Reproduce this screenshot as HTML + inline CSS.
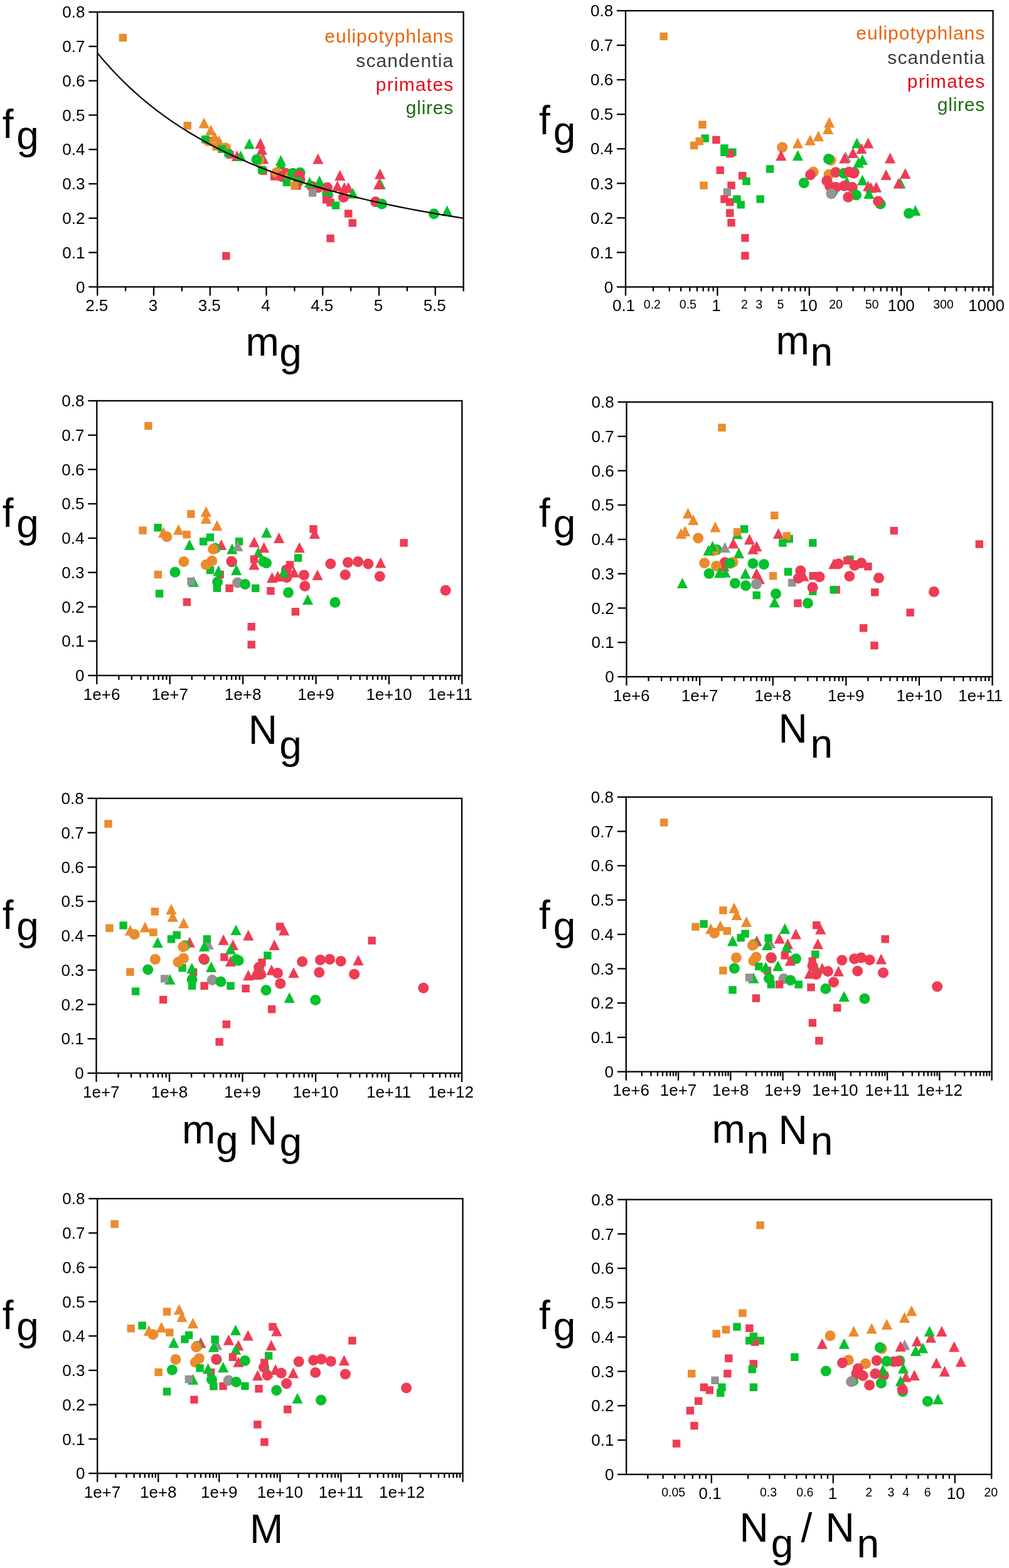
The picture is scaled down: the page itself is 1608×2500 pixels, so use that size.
<!DOCTYPE html>
<html><head><meta charset="utf-8"><title>Figure</title><style>html,body{margin:0;padding:0;background:#fff;width:1608px;height:2500px;overflow:hidden}svg{display:block}</style></head><body>
<svg width="1608" height="2500" viewBox="0 0 1608 2500" font-family='"Liberation Sans", Arial, Helvetica, sans-serif'>
<rect width="1608" height="2500" fill="#fff"/>
<rect x="189.7" y="54.0" width="12.4" height="12.4" fill="#EB8B2D"/>
<rect x="292.5" y="194.1" width="12.4" height="12.4" fill="#EB8B2D"/>
<path d="M325.2 187.5L333.8 204.5L316.6 204.5Z" fill="#EB8B2D"/>
<rect x="325.4" y="218.2" width="12.4" height="12.4" fill="#EE3C54"/>
<rect x="328.3" y="220.6" width="12.4" height="12.4" fill="#EB8B2D"/>
<rect x="338.5" y="227.6" width="12.4" height="12.4" fill="#EB8B2D"/>
<rect x="321.1" y="216.0" width="12.4" height="12.4" fill="#04C02C"/>
<path d="M335.9 198.8L344.5 215.8L327.3 215.8Z" fill="#EB8B2D"/>
<path d="M342.3 209.7L350.9 226.7L333.7 226.7Z" fill="#EB8B2D"/>
<path d="M349.0 215.9L357.6 232.9L340.4 232.9Z" fill="#EB8B2D"/>
<circle cx="359.5" cy="236.1" r="8.5" fill="#EB8B2D"/>
<rect x="347.4" y="231.5" width="12.4" height="12.4" fill="#04C02C"/>
<rect x="360.3" y="240.4" width="12.4" height="12.4" fill="#EE3C54"/>
<rect x="357.3" y="237.9" width="12.4" height="12.4" fill="#04C02C"/>
<path d="M377.6 239.9L386.2 256.9L369.0 256.9Z" fill="#EE3C54"/>
<path d="M383.6 240.1L392.2 257.1L375.0 257.1Z" fill="#04C02C"/>
<path d="M397.3 220.4L405.9 237.4L388.7 237.4Z" fill="#04C02C"/>
<path d="M419.9 243.8L428.5 260.8L411.3 260.8Z" fill="#939393"/>
<path d="M414.9 219.9L423.5 236.9L406.3 236.9Z" fill="#EE3C54"/>
<path d="M417.3 229.8L425.9 246.8L408.7 246.8Z" fill="#EE3C54"/>
<path d="M418.4 244.4L427.0 261.4L409.8 261.4Z" fill="#EE3C54"/>
<circle cx="412.7" cy="255.5" r="8.5" fill="#EB8B2D"/>
<circle cx="409.0" cy="254.4" r="8.5" fill="#04C02C"/>
<rect x="413.2" y="266.4" width="12.4" height="12.4" fill="#EE3C54"/>
<rect x="410.8" y="264.3" width="12.4" height="12.4" fill="#04C02C"/>
<path d="M447.5 253.2L456.1 270.2L438.9 270.2Z" fill="#04C02C"/>
<path d="M447.5 247.2L456.1 264.2L438.9 264.2Z" fill="#04C02C"/>
<rect x="430.9" y="275.2" width="12.4" height="12.4" fill="#EE3C54"/>
<circle cx="440.7" cy="275.2" r="8.5" fill="#EB8B2D"/>
<circle cx="449.0" cy="281.4" r="8.5" fill="#EE3C54"/>
<circle cx="455.8" cy="276.2" r="8.5" fill="#EE3C54"/>
<circle cx="462.5" cy="280.4" r="8.5" fill="#EB8B2D"/>
<circle cx="466.7" cy="276.2" r="8.5" fill="#04C02C"/>
<circle cx="478.1" cy="275.2" r="8.5" fill="#04C02C"/>
<circle cx="477.1" cy="279.4" r="8.5" fill="#EE3C54"/>
<circle cx="478.1" cy="286.6" r="8.5" fill="#EE3C54"/>
<path d="M506.8 244.6L515.4 261.6L498.2 261.6Z" fill="#EE3C54"/>
<path d="M541.7 270.9L550.3 287.9L533.1 287.9Z" fill="#EE3C54"/>
<rect x="450.6" y="284.6" width="12.4" height="12.4" fill="#04C02C"/>
<circle cx="474.7" cy="290.5" r="8.5" fill="#04C02C"/>
<rect x="467.2" y="290.2" width="12.4" height="12.4" fill="#EE3C54"/>
<rect x="463.3" y="290.2" width="12.4" height="12.4" fill="#EB8B2D"/>
<circle cx="522.9" cy="311.2" r="8.5" fill="#939393"/>
<circle cx="521.6" cy="309.1" r="8.5" fill="#04C02C"/>
<circle cx="496.8" cy="297.0" r="8.5" fill="#EE3C54"/>
<circle cx="507.1" cy="299.0" r="8.5" fill="#EE3C54"/>
<circle cx="521.4" cy="299.0" r="8.5" fill="#EE3C54"/>
<path d="M493.5 282.0L502.1 299.0L484.9 299.0Z" fill="#04C02C"/>
<path d="M509.1 280.1L517.7 297.1L500.5 297.1Z" fill="#04C02C"/>
<rect x="491.9" y="301.2" width="12.4" height="12.4" fill="#939393"/>
<rect x="513.9" y="312.2" width="12.4" height="12.4" fill="#EE3C54"/>
<rect x="520.4" y="316.8" width="12.4" height="12.4" fill="#EE3C54"/>
<rect x="528.9" y="321.3" width="12.4" height="12.4" fill="#04C02C"/>
<path d="M537.7 287.9L546.3 304.9L529.1 304.9Z" fill="#EE3C54"/>
<path d="M548.7 290.5L557.3 307.5L540.1 307.5Z" fill="#EE3C54"/>
<path d="M555.2 290.5L563.8 307.5L546.6 307.5Z" fill="#EE3C54"/>
<path d="M562.3 299.6L570.9 316.6L553.7 316.6Z" fill="#04C02C"/>
<circle cx="547.4" cy="314.5" r="8.5" fill="#EE3C54"/>
<rect x="549.0" y="334.3" width="12.4" height="12.4" fill="#EE3C54"/>
<rect x="555.5" y="349.3" width="12.4" height="12.4" fill="#EE3C54"/>
<path d="M605.6 268.7L614.2 285.7L597.0 285.7Z" fill="#EE3C54"/>
<path d="M606.2 284.7L614.8 301.7L597.6 301.7Z" fill="#04C02C"/>
<path d="M603.8 285.0L612.4 302.0L595.2 302.0Z" fill="#EE3C54"/>
<circle cx="598.6" cy="321.8" r="8.5" fill="#EE3C54"/>
<circle cx="608.5" cy="325.3" r="8.5" fill="#04C02C"/>
<circle cx="691.5" cy="341.1" r="8.5" fill="#04C02C"/>
<path d="M712.5 327.6L721.1 344.6L703.9 344.6Z" fill="#04C02C"/>
<rect x="520.4" y="373.9" width="12.4" height="12.4" fill="#EE3C54"/>
<rect x="354.1" y="402.0" width="12.4" height="12.4" fill="#EE3C54"/>
<rect x="1051.5" y="51.8" width="12.4" height="12.4" fill="#EB8B2D"/>
<rect x="1113.2" y="192.6" width="12.4" height="12.4" fill="#EB8B2D"/>
<rect x="1117.3" y="214.4" width="12.4" height="12.4" fill="#04C02C"/>
<rect x="1108.5" y="219.1" width="12.4" height="12.4" fill="#EB8B2D"/>
<rect x="1099.9" y="225.7" width="12.4" height="12.4" fill="#EB8B2D"/>
<rect x="1135.2" y="216.8" width="12.4" height="12.4" fill="#EE3C54"/>
<rect x="1161.2" y="236.6" width="12.4" height="12.4" fill="#04C02C"/>
<rect x="1157.0" y="238.9" width="12.4" height="12.4" fill="#EE3C54"/>
<rect x="1148.2" y="236.6" width="12.4" height="12.4" fill="#04C02C"/>
<rect x="1148.2" y="230.2" width="12.4" height="12.4" fill="#04C02C"/>
<rect x="1141.5" y="265.2" width="12.4" height="12.4" fill="#EE3C54"/>
<rect x="1177.0" y="274.0" width="12.4" height="12.4" fill="#EE3C54"/>
<rect x="1183.3" y="282.8" width="12.4" height="12.4" fill="#04C02C"/>
<rect x="1220.9" y="263.3" width="12.4" height="12.4" fill="#04C02C"/>
<rect x="1115.3" y="289.5" width="12.4" height="12.4" fill="#EB8B2D"/>
<rect x="1159.3" y="289.5" width="12.4" height="12.4" fill="#EE3C54"/>
<rect x="1152.6" y="300.2" width="12.4" height="12.4" fill="#939393"/>
<rect x="1148.2" y="311.3" width="12.4" height="12.4" fill="#EE3C54"/>
<rect x="1157.0" y="316.0" width="12.4" height="12.4" fill="#EE3C54"/>
<rect x="1168.2" y="311.3" width="12.4" height="12.4" fill="#04C02C"/>
<rect x="1174.5" y="320.2" width="12.4" height="12.4" fill="#04C02C"/>
<rect x="1205.4" y="311.3" width="12.4" height="12.4" fill="#04C02C"/>
<rect x="1157.0" y="333.5" width="12.4" height="12.4" fill="#EE3C54"/>
<rect x="1159.3" y="349.0" width="12.4" height="12.4" fill="#EE3C54"/>
<rect x="1181.2" y="373.2" width="12.4" height="12.4" fill="#EE3C54"/>
<rect x="1181.2" y="401.5" width="12.4" height="12.4" fill="#EE3C54"/>
<circle cx="1246.6" cy="234.9" r="8.5" fill="#EB8B2D"/>
<path d="M1244.8 239.2L1253.4 256.2L1236.2 256.2Z" fill="#EE3C54"/>
<path d="M1271.4 219.4L1280.0 236.4L1262.8 236.4Z" fill="#EB8B2D"/>
<path d="M1271.4 239.2L1280.0 256.2L1262.8 256.2Z" fill="#04C02C"/>
<path d="M1291.1 214.7L1299.7 231.7L1282.5 231.7Z" fill="#EB8B2D"/>
<path d="M1304.3 208.3L1312.9 225.3L1295.7 225.3Z" fill="#EB8B2D"/>
<path d="M1319.6 197.1L1328.2 214.1L1311.0 214.1Z" fill="#EB8B2D"/>
<path d="M1321.6 186.5L1330.2 203.5L1313.0 203.5Z" fill="#EB8B2D"/>
<circle cx="1324.0" cy="255.5" r="8.5" fill="#EB8B2D"/>
<circle cx="1320.4" cy="253.6" r="8.5" fill="#04C02C"/>
<path d="M1347.9 241.6L1356.5 258.6L1339.3 258.6Z" fill="#939393"/>
<path d="M1345.8 243.6L1354.4 260.6L1337.2 260.6Z" fill="#EE3C54"/>
<path d="M1359.4 235.0L1368.0 252.0L1350.8 252.0Z" fill="#EE3C54"/>
<path d="M1365.6 219.4L1374.2 236.4L1357.0 236.4Z" fill="#04C02C"/>
<path d="M1372.9 228.3L1381.5 245.3L1364.3 245.3Z" fill="#EE3C54"/>
<path d="M1383.6 219.4L1392.2 236.4L1375.0 236.4Z" fill="#EE3C54"/>
<path d="M1368.2 250.6L1376.8 267.6L1359.6 267.6Z" fill="#04C02C"/>
<path d="M1374.4 245.9L1383.0 262.9L1365.8 262.9Z" fill="#04C02C"/>
<circle cx="1296.0" cy="274.2" r="8.5" fill="#EB8B2D"/>
<circle cx="1291.5" cy="278.8" r="8.5" fill="#EE3C54"/>
<circle cx="1281.2" cy="291.8" r="8.5" fill="#04C02C"/>
<path d="M1349.5 281.2L1358.1 298.2L1340.9 298.2Z" fill="#04C02C"/>
<circle cx="1327.1" cy="305.3" r="8.5" fill="#04C02C"/>
<circle cx="1361.4" cy="274.7" r="8.5" fill="#04C02C"/>
<circle cx="1320.9" cy="278.3" r="8.5" fill="#EB8B2D"/>
<circle cx="1331.8" cy="274.7" r="8.5" fill="#EE3C54"/>
<circle cx="1344.8" cy="276.2" r="8.5" fill="#04C02C"/>
<circle cx="1353.1" cy="274.2" r="8.5" fill="#EE3C54"/>
<circle cx="1360.4" cy="276.2" r="8.5" fill="#EE3C54"/>
<circle cx="1317.8" cy="288.2" r="8.5" fill="#EE3C54"/>
<circle cx="1332.3" cy="298.6" r="8.5" fill="#EE3C54"/>
<circle cx="1345.3" cy="296.5" r="8.5" fill="#EE3C54"/>
<circle cx="1358.3" cy="298.6" r="8.5" fill="#EE3C54"/>
<circle cx="1322.5" cy="297.0" r="8.5" fill="#EE3C54"/>
<circle cx="1324.8" cy="309.0" r="8.5" fill="#939393"/>
<circle cx="1364.5" cy="311.0" r="8.5" fill="#04C02C"/>
<circle cx="1351.8" cy="314.2" r="8.5" fill="#EE3C54"/>
<path d="M1374.4 278.6L1383.0 295.6L1365.8 295.6Z" fill="#04C02C"/>
<path d="M1383.6 288.0L1392.2 305.0L1375.0 305.0Z" fill="#EE3C54"/>
<path d="M1387.9 290.6L1396.5 307.6L1379.3 307.6Z" fill="#EE3C54"/>
<path d="M1384.8 299.9L1393.4 316.9L1376.2 316.9Z" fill="#04C02C"/>
<path d="M1396.5 289.7L1405.1 306.7L1387.9 306.7Z" fill="#EE3C54"/>
<circle cx="1403.2" cy="325.2" r="8.5" fill="#04C02C"/>
<circle cx="1399.6" cy="321.0" r="8.5" fill="#EE3C54"/>
<path d="M1418.6 243.4L1427.2 260.4L1410.0 260.4Z" fill="#EE3C54"/>
<path d="M1412.1 269.9L1420.7 286.9L1403.5 286.9Z" fill="#EE3C54"/>
<path d="M1442.7 267.9L1451.3 284.9L1434.1 284.9Z" fill="#EE3C54"/>
<path d="M1434.9 283.4L1443.5 300.4L1426.3 300.4Z" fill="#04C02C"/>
<path d="M1432.1 283.4L1440.7 300.4L1423.5 300.4Z" fill="#EE3C54"/>
<circle cx="1448.6" cy="340.3" r="8.5" fill="#04C02C"/>
<path d="M1458.8 327.1L1467.4 344.1L1450.2 344.1Z" fill="#04C02C"/>
<rect x="230.2" y="672.8" width="12.4" height="12.4" fill="#EB8B2D"/>
<rect x="221.4" y="839.5" width="12.4" height="12.4" fill="#EB8B2D"/>
<rect x="245.4" y="835.1" width="12.4" height="12.4" fill="#04C02C"/>
<path d="M260.5 840.2L269.1 857.2L251.9 857.2Z" fill="#EB8B2D"/>
<circle cx="265.9" cy="855.8" r="8.5" fill="#EB8B2D"/>
<path d="M284.5 835.7L293.1 852.7L275.9 852.7Z" fill="#EB8B2D"/>
<rect x="291.3" y="846.1" width="12.4" height="12.4" fill="#EB8B2D"/>
<rect x="298.2" y="813.3" width="12.4" height="12.4" fill="#EB8B2D"/>
<path d="M328.4 807.1L337.0 824.1L319.8 824.1Z" fill="#EB8B2D"/>
<path d="M328.4 818.1L337.0 835.1L319.8 835.1Z" fill="#EB8B2D"/>
<path d="M345.9 829.2L354.5 846.2L337.3 846.2Z" fill="#EB8B2D"/>
<path d="M302.0 860.1L310.6 877.1L293.4 877.1Z" fill="#04C02C"/>
<rect x="328.7" y="850.6" width="12.4" height="12.4" fill="#04C02C"/>
<rect x="317.9" y="857.2" width="12.4" height="12.4" fill="#04C02C"/>
<path d="M352.7 860.1L361.3 877.1L344.1 877.1Z" fill="#EE3C54"/>
<circle cx="342.9" cy="874.3" r="8.5" fill="#04C02C"/>
<circle cx="339.7" cy="875.6" r="8.5" fill="#EB8B2D"/>
<path d="M369.9 866.6L378.5 883.6L361.3 883.6Z" fill="#04C02C"/>
<rect x="374.8" y="857.2" width="12.4" height="12.4" fill="#04C02C"/>
<path d="M378.9 861.9L387.5 878.9L370.3 878.9Z" fill="#939393"/>
<path d="M405.0 855.4L413.6 872.4L396.4 872.4Z" fill="#EE3C54"/>
<path d="M411.8 872.0L420.4 889.0L403.2 889.0Z" fill="#04C02C"/>
<circle cx="292.9" cy="895.5" r="8.5" fill="#EB8B2D"/>
<rect x="328.7" y="902.9" width="12.4" height="12.4" fill="#04C02C"/>
<circle cx="337.7" cy="894.2" r="8.5" fill="#EB8B2D"/>
<circle cx="328.4" cy="900.3" r="8.5" fill="#EB8B2D"/>
<circle cx="369.5" cy="896.1" r="8.5" fill="#04C02C"/>
<circle cx="368.9" cy="895.1" r="8.5" fill="#EE3C54"/>
<rect x="398.7" y="885.4" width="12.4" height="12.4" fill="#EE3C54"/>
<path d="M404.9 891.5L413.5 908.5L396.3 908.5Z" fill="#EE3C54"/>
<rect x="344.5" y="909.8" width="12.4" height="12.4" fill="#EE3C54"/>
<path d="M348.1 901.6L356.7 918.6L339.5 918.6Z" fill="#04C02C"/>
<path d="M376.7 899.9L385.3 916.9L368.1 916.9Z" fill="#04C02C"/>
<rect x="245.6" y="909.8" width="12.4" height="12.4" fill="#EB8B2D"/>
<circle cx="279.0" cy="912.3" r="8.5" fill="#04C02C"/>
<path d="M308.5 918.8L317.1 935.8L299.9 935.8Z" fill="#04C02C"/>
<rect x="298.2" y="920.8" width="12.4" height="12.4" fill="#939393"/>
<rect x="339.7" y="931.5" width="12.4" height="12.4" fill="#04C02C"/>
<circle cx="346.6" cy="927.7" r="8.5" fill="#04C02C"/>
<rect x="359.4" y="931.7" width="12.4" height="12.4" fill="#EE3C54"/>
<circle cx="378.6" cy="929.0" r="8.5" fill="#939393"/>
<circle cx="390.6" cy="931.4" r="8.5" fill="#04C02C"/>
<rect x="401.0" y="931.7" width="12.4" height="12.4" fill="#04C02C"/>
<rect x="247.8" y="940.3" width="12.4" height="12.4" fill="#04C02C"/>
<rect x="291.7" y="953.8" width="12.4" height="12.4" fill="#EE3C54"/>
<path d="M424.7 840.2L433.3 857.2L416.1 857.2Z" fill="#04C02C"/>
<path d="M444.6 849.0L453.2 866.0L436.0 866.0Z" fill="#EE3C54"/>
<path d="M420.6 864.2L429.2 881.2L412.0 881.2Z" fill="#EE3C54"/>
<circle cx="419.9" cy="895.5" r="8.5" fill="#04C02C"/>
<circle cx="424.5" cy="897.7" r="8.5" fill="#04C02C"/>
<rect x="493.3" y="837.3" width="12.4" height="12.4" fill="#EE3C54"/>
<path d="M501.4 842.1L510.0 859.1L492.8 859.1Z" fill="#EE3C54"/>
<path d="M477.3 864.2L485.9 881.2L468.7 881.2Z" fill="#EE3C54"/>
<rect x="468.9" y="883.4" width="12.4" height="12.4" fill="#04C02C"/>
<rect x="455.9" y="894.4" width="12.4" height="12.4" fill="#EE3C54"/>
<circle cx="456.3" cy="908.4" r="8.5" fill="#EE3C54"/>
<path d="M468.6 903.8L477.2 920.8L460.0 920.8Z" fill="#EE3C54"/>
<circle cx="456.9" cy="920.8" r="8.5" fill="#EE3C54"/>
<path d="M451.8 903.8L460.4 920.8L443.2 920.8Z" fill="#04C02C"/>
<path d="M433.6 912.3L442.2 929.3L425.0 929.3Z" fill="#EE3C54"/>
<path d="M442.7 910.3L451.3 927.3L434.1 927.3Z" fill="#EE3C54"/>
<circle cx="484.5" cy="916.9" r="8.5" fill="#EE3C54"/>
<circle cx="485.8" cy="934.4" r="8.5" fill="#EE3C54"/>
<path d="M505.9 908.1L514.5 925.1L497.3 925.1Z" fill="#EE3C54"/>
<circle cx="526.8" cy="899.0" r="8.5" fill="#EE3C54"/>
<circle cx="554.4" cy="896.8" r="8.5" fill="#EE3C54"/>
<circle cx="570.6" cy="895.5" r="8.5" fill="#EE3C54"/>
<circle cx="586.8" cy="899.0" r="8.5" fill="#EE3C54"/>
<circle cx="550.2" cy="916.6" r="8.5" fill="#EE3C54"/>
<rect x="425.2" y="936.0" width="12.4" height="12.4" fill="#EE3C54"/>
<circle cx="459.5" cy="944.8" r="8.5" fill="#04C02C"/>
<path d="M490.5 947.3L499.1 964.3L481.9 964.3Z" fill="#04C02C"/>
<circle cx="534.0" cy="960.4" r="8.5" fill="#04C02C"/>
<path d="M606.6 888.4L615.2 905.4L598.0 905.4Z" fill="#EE3C54"/>
<circle cx="605.3" cy="919.0" r="8.5" fill="#EE3C54"/>
<rect x="637.4" y="859.3" width="12.4" height="12.4" fill="#EE3C54"/>
<circle cx="710.1" cy="941.3" r="8.5" fill="#EE3C54"/>
<rect x="464.6" y="969.1" width="12.4" height="12.4" fill="#EE3C54"/>
<rect x="394.5" y="993.0" width="12.4" height="12.4" fill="#EE3C54"/>
<rect x="394.5" y="1021.6" width="12.4" height="12.4" fill="#EE3C54"/>
<rect x="1144.3" y="675.6" width="12.4" height="12.4" fill="#EB8B2D"/>
<path d="M1096.4 809.7L1105.0 826.7L1087.8 826.7Z" fill="#EB8B2D"/>
<path d="M1104.8 820.3L1113.4 837.3L1096.2 837.3Z" fill="#EB8B2D"/>
<path d="M1091.8 838.3L1100.4 855.3L1083.2 855.3Z" fill="#EB8B2D"/>
<path d="M1085.3 842.1L1093.9 859.1L1076.7 859.1Z" fill="#EB8B2D"/>
<circle cx="1112.6" cy="858.1" r="8.5" fill="#EB8B2D"/>
<path d="M1139.9 831.5L1148.5 848.5L1131.3 848.5Z" fill="#EB8B2D"/>
<path d="M1175.2 842.4L1183.8 859.4L1166.6 859.4Z" fill="#04C02C"/>
<rect x="1179.8" y="837.3" width="12.4" height="12.4" fill="#04C02C"/>
<rect x="1168.7" y="842.1" width="12.4" height="12.4" fill="#EB8B2D"/>
<path d="M1168.7 857.5L1177.3 874.5L1160.1 874.5Z" fill="#EE3C54"/>
<path d="M1194.4 851.2L1203.0 868.2L1185.8 868.2Z" fill="#EE3C54"/>
<path d="M1205.7 862.3L1214.3 879.3L1197.1 879.3Z" fill="#EE3C54"/>
<path d="M1199.9 866.8L1208.5 883.8L1191.3 883.8Z" fill="#EE3C54"/>
<rect x="1228.1" y="815.6" width="12.4" height="12.4" fill="#EB8B2D"/>
<path d="M1240.5 842.1L1249.1 859.1L1231.9 859.1Z" fill="#EE3C54"/>
<rect x="1251.5" y="852.9" width="12.4" height="12.4" fill="#04C02C"/>
<rect x="1247.6" y="848.3" width="12.4" height="12.4" fill="#EB8B2D"/>
<rect x="1241.1" y="859.4" width="12.4" height="12.4" fill="#04C02C"/>
<circle cx="1142.1" cy="876.6" r="8.5" fill="#04C02C"/>
<circle cx="1137.5" cy="877.9" r="8.5" fill="#EB8B2D"/>
<path d="M1135.6 862.3L1144.2 879.3L1127.0 879.3Z" fill="#04C02C"/>
<path d="M1129.1 868.8L1137.7 885.8L1120.5 885.8Z" fill="#04C02C"/>
<path d="M1155.3 864.2L1163.9 881.2L1146.7 881.2Z" fill="#939393"/>
<path d="M1177.5 873.3L1186.1 890.3L1168.9 890.3Z" fill="#04C02C"/>
<circle cx="1122.6" cy="897.7" r="8.5" fill="#EB8B2D"/>
<path d="M1153.8 894.1L1162.4 911.1L1145.2 911.1Z" fill="#EE3C54"/>
<circle cx="1155.1" cy="896.8" r="8.5" fill="#EE3C54"/>
<circle cx="1141.4" cy="902.6" r="8.5" fill="#EB8B2D"/>
<circle cx="1168.1" cy="896.5" r="8.5" fill="#EB8B2D"/>
<circle cx="1163.2" cy="898.3" r="8.5" fill="#04C02C"/>
<circle cx="1199.9" cy="898.4" r="8.5" fill="#04C02C"/>
<circle cx="1217.4" cy="899.7" r="8.5" fill="#04C02C"/>
<circle cx="1130.0" cy="914.5" r="8.5" fill="#04C02C"/>
<path d="M1146.6 904.5L1155.2 921.5L1138.0 921.5Z" fill="#04C02C"/>
<path d="M1155.7 903.8L1164.3 920.8L1147.1 920.8Z" fill="#04C02C"/>
<path d="M1187.9 905.8L1196.5 922.8L1179.3 922.8Z" fill="#04C02C"/>
<path d="M1205.7 905.8L1214.3 922.8L1197.1 922.8Z" fill="#EE3C54"/>
<path d="M1210.3 914.2L1218.9 931.2L1201.7 931.2Z" fill="#EE3C54"/>
<rect x="1225.9" y="912.0" width="12.4" height="12.4" fill="#EB8B2D"/>
<rect x="1249.8" y="905.5" width="12.4" height="12.4" fill="#04C02C"/>
<path d="M1087.5 921.1L1096.1 938.1L1078.9 938.1Z" fill="#04C02C"/>
<circle cx="1171.3" cy="929.9" r="8.5" fill="#04C02C"/>
<circle cx="1188.4" cy="933.8" r="8.5" fill="#04C02C"/>
<circle cx="1205.3" cy="931.2" r="8.5" fill="#939393"/>
<rect x="1256.0" y="923.0" width="12.4" height="12.4" fill="#939393"/>
<rect x="1199.5" y="942.9" width="12.4" height="12.4" fill="#04C02C"/>
<path d="M1234.3 951.5L1242.9 968.5L1225.7 968.5Z" fill="#04C02C"/>
<circle cx="1236.5" cy="946.8" r="8.5" fill="#04C02C"/>
<rect x="1289.1" y="859.4" width="12.4" height="12.4" fill="#04C02C"/>
<rect x="1418.5" y="839.9" width="12.4" height="12.4" fill="#EE3C54"/>
<rect x="1348.3" y="885.7" width="12.4" height="12.4" fill="#04C02C"/>
<path d="M1328.8 890.2L1337.4 907.2L1320.2 907.2Z" fill="#EE3C54"/>
<circle cx="1336.0" cy="899.0" r="8.5" fill="#EE3C54"/>
<rect x="1344.1" y="887.6" width="12.4" height="12.4" fill="#EE3C54"/>
<circle cx="1361.9" cy="901.6" r="8.5" fill="#EE3C54"/>
<circle cx="1372.7" cy="897.7" r="8.5" fill="#EE3C54"/>
<rect x="1377.2" y="897.0" width="12.4" height="12.4" fill="#EE3C54"/>
<circle cx="1353.8" cy="918.8" r="8.5" fill="#EE3C54"/>
<circle cx="1400.5" cy="921.4" r="8.5" fill="#EE3C54"/>
<circle cx="1275.8" cy="910.1" r="8.5" fill="#EE3C54"/>
<circle cx="1272.3" cy="922.1" r="8.5" fill="#EE3C54"/>
<path d="M1280.8 909.7L1289.4 926.7L1272.2 926.7Z" fill="#EE3C54"/>
<rect x="1289.5" y="912.0" width="12.4" height="12.4" fill="#EE3C54"/>
<circle cx="1306.1" cy="919.7" r="8.5" fill="#EE3C54"/>
<rect x="1289.1" y="936.7" width="12.4" height="12.4" fill="#04C02C"/>
<circle cx="1295.1" cy="936.4" r="8.5" fill="#EE3C54"/>
<rect x="1326.5" y="934.1" width="12.4" height="12.4" fill="#EE3C54"/>
<rect x="1322.4" y="934.1" width="12.4" height="12.4" fill="#04C02C"/>
<rect x="1388.0" y="938.2" width="12.4" height="12.4" fill="#EE3C54"/>
<rect x="1265.2" y="955.5" width="12.4" height="12.4" fill="#EE3C54"/>
<circle cx="1287.3" cy="961.7" r="8.5" fill="#04C02C"/>
<rect x="1554.5" y="861.4" width="12.4" height="12.4" fill="#EE3C54"/>
<circle cx="1488.4" cy="943.6" r="8.5" fill="#EE3C54"/>
<rect x="1444.4" y="970.5" width="12.4" height="12.4" fill="#EE3C54"/>
<rect x="1369.9" y="995.2" width="12.4" height="12.4" fill="#EE3C54"/>
<rect x="1387.2" y="1023.0" width="12.4" height="12.4" fill="#EE3C54"/>
<rect x="166.3" y="1307.3" width="12.4" height="12.4" fill="#EB8B2D"/>
<rect x="168.3" y="1473.5" width="12.4" height="12.4" fill="#EB8B2D"/>
<rect x="190.4" y="1469.3" width="12.4" height="12.4" fill="#04C02C"/>
<path d="M207.4 1474.7L216.0 1491.7L198.8 1491.7Z" fill="#EB8B2D"/>
<circle cx="214.3" cy="1489.7" r="8.5" fill="#EB8B2D"/>
<path d="M231.2 1469.6L239.8 1486.6L222.6 1486.6Z" fill="#EB8B2D"/>
<rect x="238.2" y="1480.3" width="12.4" height="12.4" fill="#EB8B2D"/>
<rect x="240.6" y="1447.2" width="12.4" height="12.4" fill="#EB8B2D"/>
<path d="M273.0 1441.0L281.6 1458.0L264.4 1458.0Z" fill="#EB8B2D"/>
<path d="M275.3 1452.7L283.9 1469.7L266.7 1469.7Z" fill="#EB8B2D"/>
<path d="M292.7 1463.1L301.3 1480.1L284.1 1480.1Z" fill="#EB8B2D"/>
<path d="M251.3 1494.0L259.9 1511.0L242.7 1511.0Z" fill="#04C02C"/>
<rect x="275.5" y="1484.6" width="12.4" height="12.4" fill="#04C02C"/>
<rect x="266.8" y="1491.1" width="12.4" height="12.4" fill="#04C02C"/>
<path d="M302.2 1493.6L310.8 1510.6L293.6 1510.6Z" fill="#EE3C54"/>
<circle cx="294.4" cy="1507.7" r="8.5" fill="#04C02C"/>
<circle cx="291.8" cy="1509.5" r="8.5" fill="#EB8B2D"/>
<path d="M332.1 1496.8L340.7 1513.8L323.5 1513.8Z" fill="#939393"/>
<rect x="323.7" y="1491.1" width="12.4" height="12.4" fill="#04C02C"/>
<path d="M325.6 1500.1L334.2 1517.1L317.0 1517.1Z" fill="#04C02C"/>
<path d="M356.1 1489.7L364.7 1506.7L347.5 1506.7Z" fill="#EE3C54"/>
<circle cx="247.3" cy="1529.4" r="8.5" fill="#EB8B2D"/>
<rect x="284.3" y="1537.0" width="12.4" height="12.4" fill="#04C02C"/>
<circle cx="292.5" cy="1528.1" r="8.5" fill="#EB8B2D"/>
<circle cx="284.0" cy="1533.9" r="8.5" fill="#EB8B2D"/>
<circle cx="325.6" cy="1530.0" r="8.5" fill="#04C02C"/>
<circle cx="324.7" cy="1529.0" r="8.5" fill="#EE3C54"/>
<rect x="351.2" y="1519.9" width="12.4" height="12.4" fill="#EE3C54"/>
<rect x="301.9" y="1543.9" width="12.4" height="12.4" fill="#EE3C54"/>
<path d="M305.8 1535.1L314.4 1552.1L297.2 1552.1Z" fill="#04C02C"/>
<path d="M336.6 1532.9L345.2 1549.9L328.0 1549.9Z" fill="#04C02C"/>
<rect x="201.2" y="1543.5" width="12.4" height="12.4" fill="#EB8B2D"/>
<circle cx="235.7" cy="1546.0" r="8.5" fill="#04C02C"/>
<path d="M270.8 1552.7L279.4 1569.7L262.2 1569.7Z" fill="#04C02C"/>
<rect x="256.0" y="1554.3" width="12.4" height="12.4" fill="#939393"/>
<rect x="299.9" y="1565.6" width="12.4" height="12.4" fill="#04C02C"/>
<circle cx="306.1" cy="1561.8" r="8.5" fill="#04C02C"/>
<rect x="319.4" y="1565.6" width="12.4" height="12.4" fill="#EE3C54"/>
<circle cx="338.2" cy="1562.5" r="8.5" fill="#939393"/>
<circle cx="351.9" cy="1565.3" r="8.5" fill="#04C02C"/>
<rect x="209.9" y="1574.4" width="12.4" height="12.4" fill="#04C02C"/>
<path d="M376.0 1474.1L384.6 1491.1L367.4 1491.1Z" fill="#04C02C"/>
<path d="M395.7 1482.5L404.3 1499.5L387.1 1499.5Z" fill="#EE3C54"/>
<path d="M371.4 1498.1L380.0 1515.1L362.8 1515.1Z" fill="#EE3C54"/>
<path d="M367.5 1504.6L376.1 1521.6L358.9 1521.6Z" fill="#04C02C"/>
<path d="M367.5 1524.1L376.1 1541.1L358.9 1541.1Z" fill="#EE3C54"/>
<circle cx="376.6" cy="1529.7" r="8.5" fill="#04C02C"/>
<circle cx="380.1" cy="1531.6" r="8.5" fill="#04C02C"/>
<rect x="439.9" y="1471.2" width="12.4" height="12.4" fill="#EE3C54"/>
<path d="M452.6 1474.5L461.2 1491.5L444.0 1491.5Z" fill="#EE3C54"/>
<path d="M437.3 1498.1L445.9 1515.1L428.7 1515.1Z" fill="#EE3C54"/>
<rect x="420.2" y="1517.3" width="12.4" height="12.4" fill="#04C02C"/>
<rect x="411.3" y="1528.3" width="12.4" height="12.4" fill="#EE3C54"/>
<circle cx="412.6" cy="1542.3" r="8.5" fill="#EE3C54"/>
<path d="M416.2 1541.0L424.8 1558.0L407.6 1558.0Z" fill="#04C02C"/>
<circle cx="415.6" cy="1553.4" r="8.5" fill="#EE3C54"/>
<path d="M405.8 1544.9L414.4 1561.9L397.2 1561.9Z" fill="#EE3C54"/>
<path d="M395.7 1546.2L404.3 1563.2L387.1 1563.2Z" fill="#EE3C54"/>
<path d="M432.9 1537.7L441.5 1554.7L424.3 1554.7Z" fill="#EE3C54"/>
<circle cx="442.5" cy="1551.4" r="8.5" fill="#EE3C54"/>
<circle cx="446.8" cy="1568.3" r="8.5" fill="#EE3C54"/>
<path d="M467.9 1542.0L476.5 1559.0L459.3 1559.0Z" fill="#EE3C54"/>
<circle cx="481.6" cy="1533.2" r="8.5" fill="#EE3C54"/>
<circle cx="510.4" cy="1530.6" r="8.5" fill="#EE3C54"/>
<circle cx="525.6" cy="1529.4" r="8.5" fill="#EE3C54"/>
<circle cx="543.2" cy="1532.6" r="8.5" fill="#EE3C54"/>
<circle cx="508.7" cy="1550.5" r="8.5" fill="#EE3C54"/>
<rect x="361.3" y="1565.6" width="12.4" height="12.4" fill="#04C02C"/>
<rect x="385.4" y="1569.9" width="12.4" height="12.4" fill="#EE3C54"/>
<circle cx="424.0" cy="1578.7" r="8.5" fill="#04C02C"/>
<rect x="586.4" y="1493.4" width="12.4" height="12.4" fill="#EE3C54"/>
<path d="M570.9 1522.3L579.5 1539.3L562.3 1539.3Z" fill="#EE3C54"/>
<circle cx="564.7" cy="1553.2" r="8.5" fill="#EE3C54"/>
<circle cx="674.8" cy="1575.3" r="8.5" fill="#EE3C54"/>
<rect x="253.9" y="1587.7" width="12.4" height="12.4" fill="#EE3C54"/>
<path d="M461.3 1581.9L469.9 1598.9L452.7 1598.9Z" fill="#04C02C"/>
<circle cx="502.7" cy="1594.4" r="8.5" fill="#04C02C"/>
<rect x="426.9" y="1602.9" width="12.4" height="12.4" fill="#EE3C54"/>
<rect x="354.6" y="1627.0" width="12.4" height="12.4" fill="#EE3C54"/>
<rect x="343.4" y="1655.0" width="12.4" height="12.4" fill="#EE3C54"/>
<rect x="1052.0" y="1305.2" width="12.4" height="12.4" fill="#EB8B2D"/>
<rect x="1102.2" y="1471.5" width="12.4" height="12.4" fill="#EB8B2D"/>
<rect x="1115.4" y="1467.0" width="12.4" height="12.4" fill="#04C02C"/>
<path d="M1132.7 1472.1L1141.3 1489.1L1124.1 1489.1Z" fill="#EB8B2D"/>
<circle cx="1138.5" cy="1487.8" r="8.5" fill="#EB8B2D"/>
<path d="M1148.0 1467.6L1156.6 1484.6L1139.4 1484.6Z" fill="#EB8B2D"/>
<rect x="1152.7" y="1478.1" width="12.4" height="12.4" fill="#EB8B2D"/>
<rect x="1146.2" y="1445.2" width="12.4" height="12.4" fill="#EB8B2D"/>
<path d="M1169.9 1439.0L1178.5 1456.0L1161.3 1456.0Z" fill="#EB8B2D"/>
<path d="M1174.0 1450.1L1182.6 1467.1L1165.4 1467.1Z" fill="#EB8B2D"/>
<path d="M1189.5 1460.9L1198.1 1477.9L1180.9 1477.9Z" fill="#EB8B2D"/>
<path d="M1167.5 1491.6L1176.1 1508.6L1158.9 1508.6Z" fill="#04C02C"/>
<rect x="1181.3" y="1482.5" width="12.4" height="12.4" fill="#04C02C"/>
<rect x="1174.5" y="1489.0" width="12.4" height="12.4" fill="#04C02C"/>
<path d="M1206.0 1491.6L1214.6 1508.6L1197.4 1508.6Z" fill="#EE3C54"/>
<circle cx="1200.8" cy="1506.0" r="8.5" fill="#04C02C"/>
<circle cx="1199.5" cy="1507.3" r="8.5" fill="#EB8B2D"/>
<path d="M1227.5 1494.9L1236.1 1511.9L1218.9 1511.9Z" fill="#939393"/>
<rect x="1218.4" y="1489.4" width="12.4" height="12.4" fill="#04C02C"/>
<path d="M1222.5 1498.1L1231.1 1515.1L1213.9 1515.1Z" fill="#04C02C"/>
<path d="M1250.8 1472.1L1259.4 1489.1L1242.2 1489.1Z" fill="#04C02C"/>
<path d="M1242.1 1487.5L1250.7 1504.5L1233.5 1504.5Z" fill="#EE3C54"/>
<path d="M1268.4 1480.6L1277.0 1497.6L1259.8 1497.6Z" fill="#EE3C54"/>
<path d="M1255.4 1496.2L1264.0 1513.2L1246.8 1513.2Z" fill="#EE3C54"/>
<path d="M1253.4 1502.0L1262.0 1519.0L1244.8 1519.0Z" fill="#04C02C"/>
<rect x="1244.6" y="1517.3" width="12.4" height="12.4" fill="#EE3C54"/>
<circle cx="1268.4" cy="1528.7" r="8.5" fill="#04C02C"/>
<path d="M1259.3 1522.8L1267.9 1539.8L1250.7 1539.8Z" fill="#EE3C54"/>
<circle cx="1173.3" cy="1527.1" r="8.5" fill="#EB8B2D"/>
<circle cx="1205.1" cy="1526.1" r="8.5" fill="#EB8B2D"/>
<circle cx="1200.8" cy="1531.9" r="8.5" fill="#EB8B2D"/>
<circle cx="1229.4" cy="1527.4" r="8.5" fill="#04C02C"/>
<circle cx="1228.8" cy="1526.8" r="8.5" fill="#EE3C54"/>
<rect x="1216.7" y="1541.3" width="12.4" height="12.4" fill="#EE3C54"/>
<rect x="1203.1" y="1534.8" width="12.4" height="12.4" fill="#04C02C"/>
<path d="M1220.3 1533.2L1228.9 1550.2L1211.7 1550.2Z" fill="#04C02C"/>
<path d="M1239.8 1531.2L1248.4 1548.2L1231.2 1548.2Z" fill="#04C02C"/>
<rect x="1146.2" y="1541.3" width="12.4" height="12.4" fill="#EB8B2D"/>
<circle cx="1170.3" cy="1544.0" r="8.5" fill="#04C02C"/>
<path d="M1200.8 1550.7L1209.4 1567.7L1192.2 1567.7Z" fill="#04C02C"/>
<rect x="1187.8" y="1552.4" width="12.4" height="12.4" fill="#939393"/>
<rect x="1222.6" y="1563.4" width="12.4" height="12.4" fill="#04C02C"/>
<circle cx="1225.5" cy="1559.9" r="8.5" fill="#04C02C"/>
<circle cx="1248.9" cy="1560.5" r="8.5" fill="#939393"/>
<rect x="1235.9" y="1563.4" width="12.4" height="12.4" fill="#EE3C54"/>
<circle cx="1259.7" cy="1563.1" r="8.5" fill="#04C02C"/>
<rect x="1266.5" y="1563.4" width="12.4" height="12.4" fill="#04C02C"/>
<rect x="1161.3" y="1572.1" width="12.4" height="12.4" fill="#04C02C"/>
<rect x="1295.0" y="1469.0" width="12.4" height="12.4" fill="#EE3C54"/>
<path d="M1307.7 1472.8L1316.3 1489.8L1299.1 1489.8Z" fill="#EE3C54"/>
<path d="M1303.4 1496.2L1312.0 1513.2L1294.8 1513.2Z" fill="#EE3C54"/>
<rect x="1293.1" y="1515.4" width="12.4" height="12.4" fill="#04C02C"/>
<rect x="1288.5" y="1526.4" width="12.4" height="12.4" fill="#EE3C54"/>
<path d="M1301.9 1537.1L1310.5 1554.1L1293.3 1554.1Z" fill="#04C02C"/>
<circle cx="1295.1" cy="1540.1" r="8.5" fill="#EE3C54"/>
<path d="M1290.2 1543.6L1298.8 1560.6L1281.6 1560.6Z" fill="#EE3C54"/>
<circle cx="1300.8" cy="1553.4" r="8.5" fill="#EE3C54"/>
<path d="M1310.3 1535.1L1318.9 1552.1L1301.7 1552.1Z" fill="#EE3C54"/>
<circle cx="1319.4" cy="1548.8" r="8.5" fill="#EE3C54"/>
<path d="M1336.3 1539.7L1344.9 1556.7L1327.7 1556.7Z" fill="#EE3C54"/>
<circle cx="1328.5" cy="1566.1" r="8.5" fill="#EE3C54"/>
<rect x="1286.3" y="1568.0" width="12.4" height="12.4" fill="#EE3C54"/>
<circle cx="1315.8" cy="1576.5" r="8.5" fill="#04C02C"/>
<circle cx="1341.8" cy="1531.0" r="8.5" fill="#EE3C54"/>
<circle cx="1361.6" cy="1528.7" r="8.5" fill="#EE3C54"/>
<circle cx="1372.3" cy="1527.1" r="8.5" fill="#EE3C54"/>
<circle cx="1386.0" cy="1530.6" r="8.5" fill="#EE3C54"/>
<path d="M1404.2 1520.5L1412.8 1537.5L1395.6 1537.5Z" fill="#EE3C54"/>
<circle cx="1366.6" cy="1548.2" r="8.5" fill="#EE3C54"/>
<circle cx="1407.5" cy="1551.0" r="8.5" fill="#EE3C54"/>
<rect x="1404.5" y="1491.1" width="12.4" height="12.4" fill="#EE3C54"/>
<rect x="1198.7" y="1585.4" width="12.4" height="12.4" fill="#EE3C54"/>
<path d="M1345.2 1580.0L1353.8 1597.0L1336.6 1597.0Z" fill="#04C02C"/>
<circle cx="1377.9" cy="1592.3" r="8.5" fill="#04C02C"/>
<rect x="1328.0" y="1600.6" width="12.4" height="12.4" fill="#EE3C54"/>
<rect x="1288.7" y="1624.6" width="12.4" height="12.4" fill="#EE3C54"/>
<rect x="1299.2" y="1653.1" width="12.4" height="12.4" fill="#EE3C54"/>
<circle cx="1493.6" cy="1572.9" r="8.5" fill="#EE3C54"/>
<rect x="176.4" y="1945.4" width="12.4" height="12.4" fill="#EB8B2D"/>
<rect x="202.6" y="2111.9" width="12.4" height="12.4" fill="#EB8B2D"/>
<rect x="220.4" y="2107.3" width="12.4" height="12.4" fill="#04C02C"/>
<path d="M237.4 2112.8L246.0 2129.8L228.8 2129.8Z" fill="#EB8B2D"/>
<circle cx="243.9" cy="2127.8" r="8.5" fill="#EB8B2D"/>
<path d="M257.3 2107.6L265.9 2124.6L248.7 2124.6Z" fill="#EB8B2D"/>
<rect x="264.1" y="2118.3" width="12.4" height="12.4" fill="#EB8B2D"/>
<rect x="259.8" y="2085.2" width="12.4" height="12.4" fill="#EB8B2D"/>
<path d="M285.5 2079.0L294.1 2096.0L276.9 2096.0Z" fill="#EB8B2D"/>
<path d="M290.0 2090.7L298.6 2107.7L281.4 2107.7Z" fill="#EB8B2D"/>
<path d="M307.5 2101.1L316.1 2118.1L298.9 2118.1Z" fill="#EB8B2D"/>
<path d="M276.8 2132.0L285.4 2149.0L268.2 2149.0Z" fill="#04C02C"/>
<rect x="294.8" y="2122.6" width="12.4" height="12.4" fill="#04C02C"/>
<rect x="288.3" y="2129.1" width="12.4" height="12.4" fill="#04C02C"/>
<path d="M319.9 2132.3L328.5 2149.3L311.3 2149.3Z" fill="#EE3C54"/>
<circle cx="314.0" cy="2146.4" r="8.5" fill="#04C02C"/>
<circle cx="312.7" cy="2147.7" r="8.5" fill="#EB8B2D"/>
<path d="M345.8 2135.5L354.4 2152.5L337.2 2152.5Z" fill="#939393"/>
<rect x="336.4" y="2129.4" width="12.4" height="12.4" fill="#04C02C"/>
<path d="M340.4 2138.8L349.0 2155.8L331.8 2155.8Z" fill="#04C02C"/>
<path d="M375.5 2112.1L384.1 2129.1L366.9 2129.1Z" fill="#04C02C"/>
<path d="M364.4 2127.7L373.0 2144.7L355.8 2144.7Z" fill="#EE3C54"/>
<path d="M379.9 2136.2L388.5 2153.2L371.3 2153.2Z" fill="#EE3C54"/>
<path d="M375.7 2142.7L384.3 2159.7L367.1 2159.7Z" fill="#04C02C"/>
<rect x="364.7" y="2157.6" width="12.4" height="12.4" fill="#EE3C54"/>
<path d="M379.9 2162.8L388.5 2179.8L371.3 2179.8Z" fill="#EE3C54"/>
<circle cx="279.9" cy="2167.4" r="8.5" fill="#EB8B2D"/>
<circle cx="317.3" cy="2166.1" r="8.5" fill="#EB8B2D"/>
<circle cx="311.4" cy="2171.9" r="8.5" fill="#EB8B2D"/>
<circle cx="345.2" cy="2167.7" r="8.5" fill="#04C02C"/>
<circle cx="344.5" cy="2167.1" r="8.5" fill="#EE3C54"/>
<rect x="329.9" y="2182.0" width="12.4" height="12.4" fill="#EE3C54"/>
<rect x="312.4" y="2175.2" width="12.4" height="12.4" fill="#04C02C"/>
<path d="M331.6 2173.4L340.2 2190.4L323.0 2190.4Z" fill="#04C02C"/>
<path d="M355.6 2171.2L364.2 2188.2L347.0 2188.2Z" fill="#04C02C"/>
<rect x="246.4" y="2181.7" width="12.4" height="12.4" fill="#EB8B2D"/>
<circle cx="274.4" cy="2184.3" r="8.5" fill="#04C02C"/>
<path d="M307.5 2190.7L316.1 2207.7L298.9 2207.7Z" fill="#04C02C"/>
<rect x="294.6" y="2192.8" width="12.4" height="12.4" fill="#939393"/>
<rect x="334.2" y="2204.1" width="12.4" height="12.4" fill="#04C02C"/>
<circle cx="337.4" cy="2199.6" r="8.5" fill="#04C02C"/>
<rect x="349.4" y="2203.8" width="12.4" height="12.4" fill="#EE3C54"/>
<circle cx="364.3" cy="2200.9" r="8.5" fill="#939393"/>
<circle cx="376.4" cy="2203.5" r="8.5" fill="#04C02C"/>
<rect x="259.8" y="2212.5" width="12.4" height="12.4" fill="#04C02C"/>
<path d="M395.3 2120.6L403.9 2137.6L386.7 2137.6Z" fill="#EE3C54"/>
<circle cx="390.4" cy="2169.4" r="8.5" fill="#04C02C"/>
<rect x="384.2" y="2203.8" width="12.4" height="12.4" fill="#04C02C"/>
<rect x="428.3" y="2109.3" width="12.4" height="12.4" fill="#EE3C54"/>
<path d="M441.0 2113.4L449.6 2130.4L432.4 2130.4Z" fill="#EE3C54"/>
<path d="M432.3 2136.2L440.9 2153.2L423.7 2153.2Z" fill="#EE3C54"/>
<rect x="421.9" y="2155.4" width="12.4" height="12.4" fill="#04C02C"/>
<rect x="415.1" y="2166.4" width="12.4" height="12.4" fill="#EE3C54"/>
<circle cx="420.5" cy="2180.1" r="8.5" fill="#EE3C54"/>
<path d="M426.8 2179.0L435.4 2196.0L418.2 2196.0Z" fill="#04C02C"/>
<circle cx="426.1" cy="2192.7" r="8.5" fill="#EE3C54"/>
<path d="M410.5 2184.2L419.1 2201.2L401.9 2201.2Z" fill="#EE3C54"/>
<path d="M439.1 2175.1L447.7 2192.1L430.5 2192.1Z" fill="#EE3C54"/>
<circle cx="448.2" cy="2189.2" r="8.5" fill="#EE3C54"/>
<path d="M467.3 2180.3L475.9 2197.3L458.7 2197.3Z" fill="#EE3C54"/>
<circle cx="456.6" cy="2206.1" r="8.5" fill="#EE3C54"/>
<rect x="406.3" y="2208.0" width="12.4" height="12.4" fill="#EE3C54"/>
<circle cx="440.6" cy="2216.8" r="8.5" fill="#04C02C"/>
<circle cx="476.1" cy="2171.0" r="8.5" fill="#EE3C54"/>
<circle cx="499.5" cy="2168.7" r="8.5" fill="#EE3C54"/>
<circle cx="512.2" cy="2167.1" r="8.5" fill="#EE3C54"/>
<circle cx="527.4" cy="2170.6" r="8.5" fill="#EE3C54"/>
<path d="M548.4 2160.2L557.0 2177.2L539.8 2177.2Z" fill="#EE3C54"/>
<circle cx="502.7" cy="2188.4" r="8.5" fill="#EE3C54"/>
<circle cx="550.4" cy="2191.0" r="8.5" fill="#EE3C54"/>
<rect x="555.2" y="2131.3" width="12.4" height="12.4" fill="#EE3C54"/>
<rect x="303.2" y="2225.4" width="12.4" height="12.4" fill="#EE3C54"/>
<path d="M474.0 2220.7L482.6 2237.7L465.4 2237.7Z" fill="#04C02C"/>
<circle cx="511.6" cy="2232.3" r="8.5" fill="#04C02C"/>
<rect x="452.1" y="2241.0" width="12.4" height="12.4" fill="#EE3C54"/>
<rect x="404.2" y="2265.1" width="12.4" height="12.4" fill="#EE3C54"/>
<rect x="415.2" y="2293.1" width="12.4" height="12.4" fill="#EE3C54"/>
<circle cx="647.6" cy="2212.9" r="8.5" fill="#EE3C54"/>
<rect x="1205.4" y="1947.3" width="12.4" height="12.4" fill="#EB8B2D"/>
<rect x="1260.2" y="2157.6" width="12.4" height="12.4" fill="#04C02C"/>
<rect x="1177.2" y="2087.4" width="12.4" height="12.4" fill="#EB8B2D"/>
<rect x="1150.8" y="2113.8" width="12.4" height="12.4" fill="#EB8B2D"/>
<rect x="1135.4" y="2120.3" width="12.4" height="12.4" fill="#EB8B2D"/>
<rect x="1168.3" y="2109.3" width="12.4" height="12.4" fill="#04C02C"/>
<rect x="1188.2" y="2111.5" width="12.4" height="12.4" fill="#EE3C54"/>
<rect x="1205.5" y="2131.3" width="12.4" height="12.4" fill="#04C02C"/>
<rect x="1196.7" y="2133.5" width="12.4" height="12.4" fill="#EE3C54"/>
<rect x="1188.0" y="2131.3" width="12.4" height="12.4" fill="#04C02C"/>
<rect x="1194.7" y="2124.7" width="12.4" height="12.4" fill="#04C02C"/>
<rect x="1155.1" y="2159.5" width="12.4" height="12.4" fill="#EE3C54"/>
<rect x="1194.7" y="2168.3" width="12.4" height="12.4" fill="#EE3C54"/>
<rect x="1192.5" y="2177.0" width="12.4" height="12.4" fill="#04C02C"/>
<rect x="1096.0" y="2183.9" width="12.4" height="12.4" fill="#EB8B2D"/>
<rect x="1153.2" y="2183.9" width="12.4" height="12.4" fill="#EE3C54"/>
<rect x="1133.3" y="2194.6" width="12.4" height="12.4" fill="#939393"/>
<rect x="1115.7" y="2205.6" width="12.4" height="12.4" fill="#EE3C54"/>
<rect x="1124.6" y="2210.2" width="12.4" height="12.4" fill="#EE3C54"/>
<rect x="1144.3" y="2205.6" width="12.4" height="12.4" fill="#04C02C"/>
<rect x="1142.1" y="2214.7" width="12.4" height="12.4" fill="#04C02C"/>
<rect x="1194.7" y="2205.6" width="12.4" height="12.4" fill="#04C02C"/>
<rect x="1106.9" y="2227.6" width="12.4" height="12.4" fill="#EE3C54"/>
<rect x="1093.7" y="2242.9" width="12.4" height="12.4" fill="#EE3C54"/>
<rect x="1100.2" y="2267.0" width="12.4" height="12.4" fill="#EE3C54"/>
<rect x="1071.9" y="2295.4" width="12.4" height="12.4" fill="#EE3C54"/>
<path d="M1310.3 2133.7L1318.9 2150.7L1301.7 2150.7Z" fill="#EE3C54"/>
<circle cx="1323.0" cy="2129.7" r="8.5" fill="#EB8B2D"/>
<path d="M1345.3 2133.7L1353.9 2150.7L1336.7 2150.7Z" fill="#04C02C"/>
<path d="M1360.6 2113.9L1369.2 2130.9L1352.0 2130.9Z" fill="#EB8B2D"/>
<path d="M1389.2 2109.6L1397.8 2126.6L1380.6 2126.6Z" fill="#EB8B2D"/>
<path d="M1413.3 2103.0L1421.9 2120.0L1404.7 2120.0Z" fill="#EB8B2D"/>
<path d="M1441.5 2091.9L1450.1 2108.9L1432.9 2108.9Z" fill="#EB8B2D"/>
<circle cx="1405.3" cy="2150.3" r="8.5" fill="#EB8B2D"/>
<circle cx="1402.4" cy="2148.4" r="8.5" fill="#04C02C"/>
<path d="M1441.7 2135.5L1450.3 2152.5L1433.1 2152.5Z" fill="#939393"/>
<path d="M1435.2 2138.1L1443.8 2155.1L1426.6 2155.1Z" fill="#EE3C54"/>
<circle cx="1352.1" cy="2168.4" r="8.5" fill="#EB8B2D"/>
<circle cx="1342.5" cy="2173.1" r="8.5" fill="#EE3C54"/>
<circle cx="1316.3" cy="2186.1" r="8.5" fill="#04C02C"/>
<circle cx="1379.4" cy="2174.2" r="8.5" fill="#EB8B2D"/>
<circle cx="1359.6" cy="2201.7" r="8.5" fill="#04C02C"/>
<circle cx="1367.4" cy="2181.9" r="8.5" fill="#EE3C54"/>
<circle cx="1364.8" cy="2189.7" r="8.5" fill="#EE3C54"/>
<circle cx="1375.2" cy="2193.4" r="8.5" fill="#EE3C54"/>
<circle cx="1356.5" cy="2203.0" r="8.5" fill="#939393"/>
<circle cx="1385.6" cy="2208.4" r="8.5" fill="#EE3C54"/>
<circle cx="1408.4" cy="2192.9" r="8.5" fill="#EE3C54"/>
<path d="M1406.9 2175.5L1415.5 2192.5L1398.3 2192.5Z" fill="#04C02C"/>
<circle cx="1394.9" cy="2190.3" r="8.5" fill="#EE3C54"/>
<circle cx="1404.3" cy="2205.3" r="8.5" fill="#04C02C"/>
<circle cx="1397.2" cy="2169.2" r="8.5" fill="#EE3C54"/>
<circle cx="1433.9" cy="2169.5" r="8.5" fill="#04C02C"/>
<circle cx="1424.0" cy="2171.0" r="8.5" fill="#EE3C54"/>
<circle cx="1431.3" cy="2170.5" r="8.5" fill="#EE3C54"/>
<circle cx="1413.1" cy="2170.5" r="8.5" fill="#04C02C"/>
<path d="M1443.8 2186.4L1452.4 2203.4L1435.2 2203.4Z" fill="#EE3C54"/>
<path d="M1439.6 2172.9L1448.2 2189.9L1431.0 2189.9Z" fill="#04C02C"/>
<path d="M1435.2 2193.2L1443.8 2210.2L1426.6 2210.2Z" fill="#04C02C"/>
<circle cx="1438.6" cy="2218.8" r="8.5" fill="#04C02C"/>
<circle cx="1438.1" cy="2215.2" r="8.5" fill="#EE3C54"/>
<path d="M1452.7 2081.2L1461.3 2098.2L1444.1 2098.2Z" fill="#EB8B2D"/>
<path d="M1461.4 2129.6L1470.0 2146.6L1452.8 2146.6Z" fill="#EE3C54"/>
<path d="M1459.3 2145.1L1467.9 2162.1L1450.7 2162.1Z" fill="#04C02C"/>
<path d="M1470.7 2140.5L1479.3 2157.5L1462.1 2157.5Z" fill="#04C02C"/>
<path d="M1483.4 2123.8L1492.0 2140.8L1474.8 2140.8Z" fill="#EE3C54"/>
<path d="M1481.3 2114.0L1489.9 2131.0L1472.7 2131.0Z" fill="#04C02C"/>
<path d="M1500.8 2114.0L1509.4 2131.0L1492.2 2131.0Z" fill="#EE3C54"/>
<path d="M1520.6 2138.4L1529.2 2155.4L1512.0 2155.4Z" fill="#EE3C54"/>
<path d="M1492.2 2164.4L1500.8 2181.4L1483.6 2181.4Z" fill="#EE3C54"/>
<path d="M1505.4 2177.7L1514.0 2194.7L1496.8 2194.7Z" fill="#EE3C54"/>
<path d="M1531.4 2162.3L1540.0 2179.3L1522.8 2179.3Z" fill="#EE3C54"/>
<path d="M1457.2 2184.1L1465.8 2201.1L1448.6 2201.1Z" fill="#EE3C54"/>
<circle cx="1478.4" cy="2234.2" r="8.5" fill="#04C02C"/>
<path d="M1494.8 2222.1L1503.4 2239.1L1486.2 2239.1Z" fill="#04C02C"/>
<polyline points="155.25,84.51 164.97,96.09 174.70,107.08 184.42,117.52 194.14,127.45 203.86,136.90 213.59,145.91 223.31,154.49 233.03,162.69 242.75,170.52 252.47,178.01 262.20,185.18 271.92,192.04 281.64,198.62 291.37,204.93 301.09,210.98 310.81,216.79 320.53,222.38 330.25,227.75 339.98,232.92 349.70,237.90 359.42,242.69 369.14,247.31 378.87,251.77 388.59,256.07 398.31,260.22 408.03,264.23 417.76,268.11 427.48,271.85 437.20,275.47 446.93,278.98 456.65,282.37 466.37,285.66 476.09,288.84 485.81,291.93 495.54,294.92 505.26,297.83 514.98,300.64 524.71,303.38 534.43,306.03 544.15,308.61 553.87,311.12 563.60,313.55 573.32,315.92 583.04,318.23 592.76,320.47 602.49,322.65 612.21,324.77 621.93,326.84 631.65,328.86 641.38,330.82 651.10,332.73 660.82,334.60 670.54,336.42 680.26,338.19 689.99,339.92 699.71,341.61 709.43,343.26 719.15,344.87 728.88,346.44 738.60,347.98" fill="none" stroke="#000" stroke-width="2.2"/>
<rect x="155.25" y="19.20" width="583.35" height="438.20" fill="none" stroke="#000" stroke-width="2.3"/>
<line x1="141.25" y1="457.40" x2="155.25" y2="457.40" stroke="#000" stroke-width="2.3"/>
<text x="135.45" y="467" font-size="26" text-anchor="end" fill="#000">0</text>
<line x1="141.25" y1="402.62" x2="155.25" y2="402.62" stroke="#000" stroke-width="2.3"/>
<text x="135.45" y="412" font-size="26" text-anchor="end" fill="#000">0.1</text>
<line x1="141.25" y1="347.85" x2="155.25" y2="347.85" stroke="#000" stroke-width="2.3"/>
<text x="135.45" y="357" font-size="26" text-anchor="end" fill="#000">0.2</text>
<line x1="141.25" y1="293.08" x2="155.25" y2="293.08" stroke="#000" stroke-width="2.3"/>
<text x="135.45" y="302" font-size="26" text-anchor="end" fill="#000">0.3</text>
<line x1="141.25" y1="238.30" x2="155.25" y2="238.30" stroke="#000" stroke-width="2.3"/>
<text x="135.45" y="247" font-size="26" text-anchor="end" fill="#000">0.4</text>
<line x1="141.25" y1="183.52" x2="155.25" y2="183.52" stroke="#000" stroke-width="2.3"/>
<text x="135.45" y="193" font-size="26" text-anchor="end" fill="#000">0.5</text>
<line x1="141.25" y1="128.75" x2="155.25" y2="128.75" stroke="#000" stroke-width="2.3"/>
<text x="135.45" y="138" font-size="26" text-anchor="end" fill="#000">0.6</text>
<line x1="141.25" y1="73.98" x2="155.25" y2="73.98" stroke="#000" stroke-width="2.3"/>
<text x="135.45" y="83" font-size="26" text-anchor="end" fill="#000">0.7</text>
<line x1="141.25" y1="19.20" x2="155.25" y2="19.20" stroke="#000" stroke-width="2.3"/>
<text x="135.45" y="28" font-size="26" text-anchor="end" fill="#000">0.8</text>
<rect x="997.00" y="17.10" width="585.50" height="440.40" fill="none" stroke="#000" stroke-width="2.3"/>
<line x1="983.00" y1="457.50" x2="997.00" y2="457.50" stroke="#000" stroke-width="2.3"/>
<text x="977.20" y="467" font-size="26" text-anchor="end" fill="#000">0</text>
<line x1="983.00" y1="402.45" x2="997.00" y2="402.45" stroke="#000" stroke-width="2.3"/>
<text x="977.20" y="412" font-size="26" text-anchor="end" fill="#000">0.1</text>
<line x1="983.00" y1="347.40" x2="997.00" y2="347.40" stroke="#000" stroke-width="2.3"/>
<text x="977.20" y="357" font-size="26" text-anchor="end" fill="#000">0.2</text>
<line x1="983.00" y1="292.35" x2="997.00" y2="292.35" stroke="#000" stroke-width="2.3"/>
<text x="977.20" y="302" font-size="26" text-anchor="end" fill="#000">0.3</text>
<line x1="983.00" y1="237.30" x2="997.00" y2="237.30" stroke="#000" stroke-width="2.3"/>
<text x="977.20" y="246" font-size="26" text-anchor="end" fill="#000">0.4</text>
<line x1="983.00" y1="182.25" x2="997.00" y2="182.25" stroke="#000" stroke-width="2.3"/>
<text x="977.20" y="191" font-size="26" text-anchor="end" fill="#000">0.5</text>
<line x1="983.00" y1="127.20" x2="997.00" y2="127.20" stroke="#000" stroke-width="2.3"/>
<text x="977.20" y="136" font-size="26" text-anchor="end" fill="#000">0.6</text>
<line x1="983.00" y1="72.15" x2="997.00" y2="72.15" stroke="#000" stroke-width="2.3"/>
<text x="977.20" y="81" font-size="26" text-anchor="end" fill="#000">0.7</text>
<line x1="983.00" y1="17.10" x2="997.00" y2="17.10" stroke="#000" stroke-width="2.3"/>
<text x="977.20" y="26" font-size="26" text-anchor="end" fill="#000">0.8</text>
<rect x="154.30" y="639.00" width="582.00" height="438.00" fill="none" stroke="#000" stroke-width="2.3"/>
<line x1="140.30" y1="1077.00" x2="154.30" y2="1077.00" stroke="#000" stroke-width="2.3"/>
<text x="134.50" y="1086" font-size="26" text-anchor="end" fill="#000">0</text>
<line x1="140.30" y1="1022.25" x2="154.30" y2="1022.25" stroke="#000" stroke-width="2.3"/>
<text x="134.50" y="1031" font-size="26" text-anchor="end" fill="#000">0.1</text>
<line x1="140.30" y1="967.50" x2="154.30" y2="967.50" stroke="#000" stroke-width="2.3"/>
<text x="134.50" y="977" font-size="26" text-anchor="end" fill="#000">0.2</text>
<line x1="140.30" y1="912.75" x2="154.30" y2="912.75" stroke="#000" stroke-width="2.3"/>
<text x="134.50" y="922" font-size="26" text-anchor="end" fill="#000">0.3</text>
<line x1="140.30" y1="858.00" x2="154.30" y2="858.00" stroke="#000" stroke-width="2.3"/>
<text x="134.50" y="867" font-size="26" text-anchor="end" fill="#000">0.4</text>
<line x1="140.30" y1="803.25" x2="154.30" y2="803.25" stroke="#000" stroke-width="2.3"/>
<text x="134.50" y="812" font-size="26" text-anchor="end" fill="#000">0.5</text>
<line x1="140.30" y1="748.50" x2="154.30" y2="748.50" stroke="#000" stroke-width="2.3"/>
<text x="134.50" y="758" font-size="26" text-anchor="end" fill="#000">0.6</text>
<line x1="140.30" y1="693.75" x2="154.30" y2="693.75" stroke="#000" stroke-width="2.3"/>
<text x="134.50" y="703" font-size="26" text-anchor="end" fill="#000">0.7</text>
<line x1="140.30" y1="639.00" x2="154.30" y2="639.00" stroke="#000" stroke-width="2.3"/>
<text x="134.50" y="648" font-size="26" text-anchor="end" fill="#000">0.8</text>
<rect x="998.50" y="641.00" width="583.00" height="438.00" fill="none" stroke="#000" stroke-width="2.3"/>
<line x1="984.50" y1="1079.00" x2="998.50" y2="1079.00" stroke="#000" stroke-width="2.3"/>
<text x="978.70" y="1088" font-size="26" text-anchor="end" fill="#000">0</text>
<line x1="984.50" y1="1024.25" x2="998.50" y2="1024.25" stroke="#000" stroke-width="2.3"/>
<text x="978.70" y="1033" font-size="26" text-anchor="end" fill="#000">0.1</text>
<line x1="984.50" y1="969.50" x2="998.50" y2="969.50" stroke="#000" stroke-width="2.3"/>
<text x="978.70" y="979" font-size="26" text-anchor="end" fill="#000">0.2</text>
<line x1="984.50" y1="914.75" x2="998.50" y2="914.75" stroke="#000" stroke-width="2.3"/>
<text x="978.70" y="924" font-size="26" text-anchor="end" fill="#000">0.3</text>
<line x1="984.50" y1="860.00" x2="998.50" y2="860.00" stroke="#000" stroke-width="2.3"/>
<text x="978.70" y="869" font-size="26" text-anchor="end" fill="#000">0.4</text>
<line x1="984.50" y1="805.25" x2="998.50" y2="805.25" stroke="#000" stroke-width="2.3"/>
<text x="978.70" y="814" font-size="26" text-anchor="end" fill="#000">0.5</text>
<line x1="984.50" y1="750.50" x2="998.50" y2="750.50" stroke="#000" stroke-width="2.3"/>
<text x="978.70" y="760" font-size="26" text-anchor="end" fill="#000">0.6</text>
<line x1="984.50" y1="695.75" x2="998.50" y2="695.75" stroke="#000" stroke-width="2.3"/>
<text x="978.70" y="705" font-size="26" text-anchor="end" fill="#000">0.7</text>
<line x1="984.50" y1="641.00" x2="998.50" y2="641.00" stroke="#000" stroke-width="2.3"/>
<text x="978.70" y="650" font-size="26" text-anchor="end" fill="#000">0.8</text>
<rect x="153.50" y="1272.90" width="582.50" height="438.10" fill="none" stroke="#000" stroke-width="2.3"/>
<line x1="139.50" y1="1711.00" x2="153.50" y2="1711.00" stroke="#000" stroke-width="2.3"/>
<text x="133.70" y="1720" font-size="26" text-anchor="end" fill="#000">0</text>
<line x1="139.50" y1="1656.24" x2="153.50" y2="1656.24" stroke="#000" stroke-width="2.3"/>
<text x="133.70" y="1665" font-size="26" text-anchor="end" fill="#000">0.1</text>
<line x1="139.50" y1="1601.47" x2="153.50" y2="1601.47" stroke="#000" stroke-width="2.3"/>
<text x="133.70" y="1611" font-size="26" text-anchor="end" fill="#000">0.2</text>
<line x1="139.50" y1="1546.71" x2="153.50" y2="1546.71" stroke="#000" stroke-width="2.3"/>
<text x="133.70" y="1556" font-size="26" text-anchor="end" fill="#000">0.3</text>
<line x1="139.50" y1="1491.95" x2="153.50" y2="1491.95" stroke="#000" stroke-width="2.3"/>
<text x="133.70" y="1501" font-size="26" text-anchor="end" fill="#000">0.4</text>
<line x1="139.50" y1="1437.19" x2="153.50" y2="1437.19" stroke="#000" stroke-width="2.3"/>
<text x="133.70" y="1446" font-size="26" text-anchor="end" fill="#000">0.5</text>
<line x1="139.50" y1="1382.43" x2="153.50" y2="1382.43" stroke="#000" stroke-width="2.3"/>
<text x="133.70" y="1392" font-size="26" text-anchor="end" fill="#000">0.6</text>
<line x1="139.50" y1="1327.66" x2="153.50" y2="1327.66" stroke="#000" stroke-width="2.3"/>
<text x="133.70" y="1337" font-size="26" text-anchor="end" fill="#000">0.7</text>
<line x1="139.50" y1="1272.90" x2="153.50" y2="1272.90" stroke="#000" stroke-width="2.3"/>
<text x="133.70" y="1282" font-size="26" text-anchor="end" fill="#000">0.8</text>
<rect x="997.80" y="1270.80" width="582.80" height="437.90" fill="none" stroke="#000" stroke-width="2.3"/>
<line x1="983.80" y1="1708.70" x2="997.80" y2="1708.70" stroke="#000" stroke-width="2.3"/>
<text x="978.00" y="1718" font-size="26" text-anchor="end" fill="#000">0</text>
<line x1="983.80" y1="1653.96" x2="997.80" y2="1653.96" stroke="#000" stroke-width="2.3"/>
<text x="978.00" y="1663" font-size="26" text-anchor="end" fill="#000">0.1</text>
<line x1="983.80" y1="1599.22" x2="997.80" y2="1599.22" stroke="#000" stroke-width="2.3"/>
<text x="978.00" y="1608" font-size="26" text-anchor="end" fill="#000">0.2</text>
<line x1="983.80" y1="1544.49" x2="997.80" y2="1544.49" stroke="#000" stroke-width="2.3"/>
<text x="978.00" y="1554" font-size="26" text-anchor="end" fill="#000">0.3</text>
<line x1="983.80" y1="1489.75" x2="997.80" y2="1489.75" stroke="#000" stroke-width="2.3"/>
<text x="978.00" y="1499" font-size="26" text-anchor="end" fill="#000">0.4</text>
<line x1="983.80" y1="1435.01" x2="997.80" y2="1435.01" stroke="#000" stroke-width="2.3"/>
<text x="978.00" y="1444" font-size="26" text-anchor="end" fill="#000">0.5</text>
<line x1="983.80" y1="1380.28" x2="997.80" y2="1380.28" stroke="#000" stroke-width="2.3"/>
<text x="978.00" y="1389" font-size="26" text-anchor="end" fill="#000">0.6</text>
<line x1="983.80" y1="1325.54" x2="997.80" y2="1325.54" stroke="#000" stroke-width="2.3"/>
<text x="978.00" y="1335" font-size="26" text-anchor="end" fill="#000">0.7</text>
<line x1="983.80" y1="1270.80" x2="997.80" y2="1270.80" stroke="#000" stroke-width="2.3"/>
<text x="978.00" y="1280" font-size="26" text-anchor="end" fill="#000">0.8</text>
<rect x="155.20" y="1911.10" width="582.30" height="438.00" fill="none" stroke="#000" stroke-width="2.3"/>
<line x1="141.20" y1="2349.10" x2="155.20" y2="2349.10" stroke="#000" stroke-width="2.3"/>
<text x="135.40" y="2358" font-size="26" text-anchor="end" fill="#000">0</text>
<line x1="141.20" y1="2294.35" x2="155.20" y2="2294.35" stroke="#000" stroke-width="2.3"/>
<text x="135.40" y="2304" font-size="26" text-anchor="end" fill="#000">0.1</text>
<line x1="141.20" y1="2239.60" x2="155.20" y2="2239.60" stroke="#000" stroke-width="2.3"/>
<text x="135.40" y="2249" font-size="26" text-anchor="end" fill="#000">0.2</text>
<line x1="141.20" y1="2184.85" x2="155.20" y2="2184.85" stroke="#000" stroke-width="2.3"/>
<text x="135.40" y="2194" font-size="26" text-anchor="end" fill="#000">0.3</text>
<line x1="141.20" y1="2130.10" x2="155.20" y2="2130.10" stroke="#000" stroke-width="2.3"/>
<text x="135.40" y="2139" font-size="26" text-anchor="end" fill="#000">0.4</text>
<line x1="141.20" y1="2075.35" x2="155.20" y2="2075.35" stroke="#000" stroke-width="2.3"/>
<text x="135.40" y="2085" font-size="26" text-anchor="end" fill="#000">0.5</text>
<line x1="141.20" y1="2020.60" x2="155.20" y2="2020.60" stroke="#000" stroke-width="2.3"/>
<text x="135.40" y="2030" font-size="26" text-anchor="end" fill="#000">0.6</text>
<line x1="141.20" y1="1965.85" x2="155.20" y2="1965.85" stroke="#000" stroke-width="2.3"/>
<text x="135.40" y="1975" font-size="26" text-anchor="end" fill="#000">0.7</text>
<line x1="141.20" y1="1911.10" x2="155.20" y2="1911.10" stroke="#000" stroke-width="2.3"/>
<text x="135.40" y="1920" font-size="26" text-anchor="end" fill="#000">0.8</text>
<rect x="998.20" y="1912.60" width="582.00" height="438.20" fill="none" stroke="#000" stroke-width="2.3"/>
<line x1="984.20" y1="2350.80" x2="998.20" y2="2350.80" stroke="#000" stroke-width="2.3"/>
<text x="978.40" y="2360" font-size="26" text-anchor="end" fill="#000">0</text>
<line x1="984.20" y1="2296.03" x2="998.20" y2="2296.03" stroke="#000" stroke-width="2.3"/>
<text x="978.40" y="2305" font-size="26" text-anchor="end" fill="#000">0.1</text>
<line x1="984.20" y1="2241.25" x2="998.20" y2="2241.25" stroke="#000" stroke-width="2.3"/>
<text x="978.40" y="2250" font-size="26" text-anchor="end" fill="#000">0.2</text>
<line x1="984.20" y1="2186.47" x2="998.20" y2="2186.47" stroke="#000" stroke-width="2.3"/>
<text x="978.40" y="2196" font-size="26" text-anchor="end" fill="#000">0.3</text>
<line x1="984.20" y1="2131.70" x2="998.20" y2="2131.70" stroke="#000" stroke-width="2.3"/>
<text x="978.40" y="2141" font-size="26" text-anchor="end" fill="#000">0.4</text>
<line x1="984.20" y1="2076.93" x2="998.20" y2="2076.93" stroke="#000" stroke-width="2.3"/>
<text x="978.40" y="2086" font-size="26" text-anchor="end" fill="#000">0.5</text>
<line x1="984.20" y1="2022.15" x2="998.20" y2="2022.15" stroke="#000" stroke-width="2.3"/>
<text x="978.40" y="2031" font-size="26" text-anchor="end" fill="#000">0.6</text>
<line x1="984.20" y1="1967.38" x2="998.20" y2="1967.38" stroke="#000" stroke-width="2.3"/>
<text x="978.40" y="1977" font-size="26" text-anchor="end" fill="#000">0.7</text>
<line x1="984.20" y1="1912.60" x2="998.20" y2="1912.60" stroke="#000" stroke-width="2.3"/>
<text x="978.40" y="1922" font-size="26" text-anchor="end" fill="#000">0.8</text>
<line x1="155.25" y1="457.40" x2="155.25" y2="471.40" stroke="#000" stroke-width="2.3"/>
<line x1="245.00" y1="457.40" x2="245.00" y2="471.40" stroke="#000" stroke-width="2.3"/>
<line x1="334.74" y1="457.40" x2="334.74" y2="471.40" stroke="#000" stroke-width="2.3"/>
<line x1="424.49" y1="457.40" x2="424.49" y2="471.40" stroke="#000" stroke-width="2.3"/>
<line x1="514.23" y1="457.40" x2="514.23" y2="471.40" stroke="#000" stroke-width="2.3"/>
<line x1="603.98" y1="457.40" x2="603.98" y2="471.40" stroke="#000" stroke-width="2.3"/>
<line x1="693.73" y1="457.40" x2="693.73" y2="471.40" stroke="#000" stroke-width="2.3"/>
<line x1="200.12" y1="457.40" x2="200.12" y2="464.40" stroke="#000" stroke-width="2.3"/>
<line x1="289.87" y1="457.40" x2="289.87" y2="464.40" stroke="#000" stroke-width="2.3"/>
<line x1="379.62" y1="457.40" x2="379.62" y2="464.40" stroke="#000" stroke-width="2.3"/>
<line x1="469.36" y1="457.40" x2="469.36" y2="464.40" stroke="#000" stroke-width="2.3"/>
<line x1="559.11" y1="457.40" x2="559.11" y2="464.40" stroke="#000" stroke-width="2.3"/>
<line x1="648.85" y1="457.40" x2="648.85" y2="464.40" stroke="#000" stroke-width="2.3"/>
<line x1="738.60" y1="457.40" x2="738.60" y2="464.40" stroke="#000" stroke-width="2.3"/>
<line x1="997.00" y1="457.50" x2="997.00" y2="471.50" stroke="#000" stroke-width="2.3"/>
<line x1="1143.38" y1="457.50" x2="1143.38" y2="471.50" stroke="#000" stroke-width="2.3"/>
<line x1="1289.75" y1="457.50" x2="1289.75" y2="471.50" stroke="#000" stroke-width="2.3"/>
<line x1="1436.12" y1="457.50" x2="1436.12" y2="471.50" stroke="#000" stroke-width="2.3"/>
<line x1="1582.50" y1="457.50" x2="1582.50" y2="471.50" stroke="#000" stroke-width="2.3"/>
<line x1="1041.06" y1="457.50" x2="1041.06" y2="464.50" stroke="#000" stroke-width="2.3"/>
<line x1="1066.84" y1="457.50" x2="1066.84" y2="464.50" stroke="#000" stroke-width="2.3"/>
<line x1="1085.13" y1="457.50" x2="1085.13" y2="464.50" stroke="#000" stroke-width="2.3"/>
<line x1="1099.31" y1="457.50" x2="1099.31" y2="464.50" stroke="#000" stroke-width="2.3"/>
<line x1="1110.90" y1="457.50" x2="1110.90" y2="464.50" stroke="#000" stroke-width="2.3"/>
<line x1="1120.70" y1="457.50" x2="1120.70" y2="464.50" stroke="#000" stroke-width="2.3"/>
<line x1="1129.19" y1="457.50" x2="1129.19" y2="464.50" stroke="#000" stroke-width="2.3"/>
<line x1="1136.68" y1="457.50" x2="1136.68" y2="464.50" stroke="#000" stroke-width="2.3"/>
<line x1="1187.44" y1="457.50" x2="1187.44" y2="464.50" stroke="#000" stroke-width="2.3"/>
<line x1="1213.21" y1="457.50" x2="1213.21" y2="464.50" stroke="#000" stroke-width="2.3"/>
<line x1="1231.50" y1="457.50" x2="1231.50" y2="464.50" stroke="#000" stroke-width="2.3"/>
<line x1="1245.69" y1="457.50" x2="1245.69" y2="464.50" stroke="#000" stroke-width="2.3"/>
<line x1="1257.28" y1="457.50" x2="1257.28" y2="464.50" stroke="#000" stroke-width="2.3"/>
<line x1="1267.08" y1="457.50" x2="1267.08" y2="464.50" stroke="#000" stroke-width="2.3"/>
<line x1="1275.56" y1="457.50" x2="1275.56" y2="464.50" stroke="#000" stroke-width="2.3"/>
<line x1="1283.05" y1="457.50" x2="1283.05" y2="464.50" stroke="#000" stroke-width="2.3"/>
<line x1="1333.81" y1="457.50" x2="1333.81" y2="464.50" stroke="#000" stroke-width="2.3"/>
<line x1="1359.59" y1="457.50" x2="1359.59" y2="464.50" stroke="#000" stroke-width="2.3"/>
<line x1="1377.88" y1="457.50" x2="1377.88" y2="464.50" stroke="#000" stroke-width="2.3"/>
<line x1="1392.06" y1="457.50" x2="1392.06" y2="464.50" stroke="#000" stroke-width="2.3"/>
<line x1="1403.65" y1="457.50" x2="1403.65" y2="464.50" stroke="#000" stroke-width="2.3"/>
<line x1="1413.45" y1="457.50" x2="1413.45" y2="464.50" stroke="#000" stroke-width="2.3"/>
<line x1="1421.94" y1="457.50" x2="1421.94" y2="464.50" stroke="#000" stroke-width="2.3"/>
<line x1="1429.43" y1="457.50" x2="1429.43" y2="464.50" stroke="#000" stroke-width="2.3"/>
<line x1="1480.19" y1="457.50" x2="1480.19" y2="464.50" stroke="#000" stroke-width="2.3"/>
<line x1="1505.96" y1="457.50" x2="1505.96" y2="464.50" stroke="#000" stroke-width="2.3"/>
<line x1="1524.25" y1="457.50" x2="1524.25" y2="464.50" stroke="#000" stroke-width="2.3"/>
<line x1="1538.44" y1="457.50" x2="1538.44" y2="464.50" stroke="#000" stroke-width="2.3"/>
<line x1="1550.03" y1="457.50" x2="1550.03" y2="464.50" stroke="#000" stroke-width="2.3"/>
<line x1="1559.83" y1="457.50" x2="1559.83" y2="464.50" stroke="#000" stroke-width="2.3"/>
<line x1="1568.31" y1="457.50" x2="1568.31" y2="464.50" stroke="#000" stroke-width="2.3"/>
<line x1="1575.80" y1="457.50" x2="1575.80" y2="464.50" stroke="#000" stroke-width="2.3"/>
<line x1="154.30" y1="1077.00" x2="154.30" y2="1091.00" stroke="#000" stroke-width="2.3"/>
<line x1="270.70" y1="1077.00" x2="270.70" y2="1091.00" stroke="#000" stroke-width="2.3"/>
<line x1="387.10" y1="1077.00" x2="387.10" y2="1091.00" stroke="#000" stroke-width="2.3"/>
<line x1="503.50" y1="1077.00" x2="503.50" y2="1091.00" stroke="#000" stroke-width="2.3"/>
<line x1="619.90" y1="1077.00" x2="619.90" y2="1091.00" stroke="#000" stroke-width="2.3"/>
<line x1="736.30" y1="1077.00" x2="736.30" y2="1091.00" stroke="#000" stroke-width="2.3"/>
<line x1="189.34" y1="1077.00" x2="189.34" y2="1084.00" stroke="#000" stroke-width="2.3"/>
<line x1="209.84" y1="1077.00" x2="209.84" y2="1084.00" stroke="#000" stroke-width="2.3"/>
<line x1="224.38" y1="1077.00" x2="224.38" y2="1084.00" stroke="#000" stroke-width="2.3"/>
<line x1="235.66" y1="1077.00" x2="235.66" y2="1084.00" stroke="#000" stroke-width="2.3"/>
<line x1="244.88" y1="1077.00" x2="244.88" y2="1084.00" stroke="#000" stroke-width="2.3"/>
<line x1="252.67" y1="1077.00" x2="252.67" y2="1084.00" stroke="#000" stroke-width="2.3"/>
<line x1="259.42" y1="1077.00" x2="259.42" y2="1084.00" stroke="#000" stroke-width="2.3"/>
<line x1="265.37" y1="1077.00" x2="265.37" y2="1084.00" stroke="#000" stroke-width="2.3"/>
<line x1="305.74" y1="1077.00" x2="305.74" y2="1084.00" stroke="#000" stroke-width="2.3"/>
<line x1="326.24" y1="1077.00" x2="326.24" y2="1084.00" stroke="#000" stroke-width="2.3"/>
<line x1="340.78" y1="1077.00" x2="340.78" y2="1084.00" stroke="#000" stroke-width="2.3"/>
<line x1="352.06" y1="1077.00" x2="352.06" y2="1084.00" stroke="#000" stroke-width="2.3"/>
<line x1="361.28" y1="1077.00" x2="361.28" y2="1084.00" stroke="#000" stroke-width="2.3"/>
<line x1="369.07" y1="1077.00" x2="369.07" y2="1084.00" stroke="#000" stroke-width="2.3"/>
<line x1="375.82" y1="1077.00" x2="375.82" y2="1084.00" stroke="#000" stroke-width="2.3"/>
<line x1="381.77" y1="1077.00" x2="381.77" y2="1084.00" stroke="#000" stroke-width="2.3"/>
<line x1="422.14" y1="1077.00" x2="422.14" y2="1084.00" stroke="#000" stroke-width="2.3"/>
<line x1="442.64" y1="1077.00" x2="442.64" y2="1084.00" stroke="#000" stroke-width="2.3"/>
<line x1="457.18" y1="1077.00" x2="457.18" y2="1084.00" stroke="#000" stroke-width="2.3"/>
<line x1="468.46" y1="1077.00" x2="468.46" y2="1084.00" stroke="#000" stroke-width="2.3"/>
<line x1="477.68" y1="1077.00" x2="477.68" y2="1084.00" stroke="#000" stroke-width="2.3"/>
<line x1="485.47" y1="1077.00" x2="485.47" y2="1084.00" stroke="#000" stroke-width="2.3"/>
<line x1="492.22" y1="1077.00" x2="492.22" y2="1084.00" stroke="#000" stroke-width="2.3"/>
<line x1="498.17" y1="1077.00" x2="498.17" y2="1084.00" stroke="#000" stroke-width="2.3"/>
<line x1="538.54" y1="1077.00" x2="538.54" y2="1084.00" stroke="#000" stroke-width="2.3"/>
<line x1="559.04" y1="1077.00" x2="559.04" y2="1084.00" stroke="#000" stroke-width="2.3"/>
<line x1="573.58" y1="1077.00" x2="573.58" y2="1084.00" stroke="#000" stroke-width="2.3"/>
<line x1="584.86" y1="1077.00" x2="584.86" y2="1084.00" stroke="#000" stroke-width="2.3"/>
<line x1="594.08" y1="1077.00" x2="594.08" y2="1084.00" stroke="#000" stroke-width="2.3"/>
<line x1="601.87" y1="1077.00" x2="601.87" y2="1084.00" stroke="#000" stroke-width="2.3"/>
<line x1="608.62" y1="1077.00" x2="608.62" y2="1084.00" stroke="#000" stroke-width="2.3"/>
<line x1="614.57" y1="1077.00" x2="614.57" y2="1084.00" stroke="#000" stroke-width="2.3"/>
<line x1="654.94" y1="1077.00" x2="654.94" y2="1084.00" stroke="#000" stroke-width="2.3"/>
<line x1="675.44" y1="1077.00" x2="675.44" y2="1084.00" stroke="#000" stroke-width="2.3"/>
<line x1="689.98" y1="1077.00" x2="689.98" y2="1084.00" stroke="#000" stroke-width="2.3"/>
<line x1="701.26" y1="1077.00" x2="701.26" y2="1084.00" stroke="#000" stroke-width="2.3"/>
<line x1="710.48" y1="1077.00" x2="710.48" y2="1084.00" stroke="#000" stroke-width="2.3"/>
<line x1="718.27" y1="1077.00" x2="718.27" y2="1084.00" stroke="#000" stroke-width="2.3"/>
<line x1="725.02" y1="1077.00" x2="725.02" y2="1084.00" stroke="#000" stroke-width="2.3"/>
<line x1="730.97" y1="1077.00" x2="730.97" y2="1084.00" stroke="#000" stroke-width="2.3"/>
<line x1="998.50" y1="1079.00" x2="998.50" y2="1093.00" stroke="#000" stroke-width="2.3"/>
<line x1="1115.10" y1="1079.00" x2="1115.10" y2="1093.00" stroke="#000" stroke-width="2.3"/>
<line x1="1231.70" y1="1079.00" x2="1231.70" y2="1093.00" stroke="#000" stroke-width="2.3"/>
<line x1="1348.30" y1="1079.00" x2="1348.30" y2="1093.00" stroke="#000" stroke-width="2.3"/>
<line x1="1464.90" y1="1079.00" x2="1464.90" y2="1093.00" stroke="#000" stroke-width="2.3"/>
<line x1="1581.50" y1="1079.00" x2="1581.50" y2="1093.00" stroke="#000" stroke-width="2.3"/>
<line x1="1033.60" y1="1079.00" x2="1033.60" y2="1086.00" stroke="#000" stroke-width="2.3"/>
<line x1="1054.13" y1="1079.00" x2="1054.13" y2="1086.00" stroke="#000" stroke-width="2.3"/>
<line x1="1068.70" y1="1079.00" x2="1068.70" y2="1086.00" stroke="#000" stroke-width="2.3"/>
<line x1="1080.00" y1="1079.00" x2="1080.00" y2="1086.00" stroke="#000" stroke-width="2.3"/>
<line x1="1089.23" y1="1079.00" x2="1089.23" y2="1086.00" stroke="#000" stroke-width="2.3"/>
<line x1="1097.04" y1="1079.00" x2="1097.04" y2="1086.00" stroke="#000" stroke-width="2.3"/>
<line x1="1103.80" y1="1079.00" x2="1103.80" y2="1086.00" stroke="#000" stroke-width="2.3"/>
<line x1="1109.76" y1="1079.00" x2="1109.76" y2="1086.00" stroke="#000" stroke-width="2.3"/>
<line x1="1150.20" y1="1079.00" x2="1150.20" y2="1086.00" stroke="#000" stroke-width="2.3"/>
<line x1="1170.73" y1="1079.00" x2="1170.73" y2="1086.00" stroke="#000" stroke-width="2.3"/>
<line x1="1185.30" y1="1079.00" x2="1185.30" y2="1086.00" stroke="#000" stroke-width="2.3"/>
<line x1="1196.60" y1="1079.00" x2="1196.60" y2="1086.00" stroke="#000" stroke-width="2.3"/>
<line x1="1205.83" y1="1079.00" x2="1205.83" y2="1086.00" stroke="#000" stroke-width="2.3"/>
<line x1="1213.64" y1="1079.00" x2="1213.64" y2="1086.00" stroke="#000" stroke-width="2.3"/>
<line x1="1220.40" y1="1079.00" x2="1220.40" y2="1086.00" stroke="#000" stroke-width="2.3"/>
<line x1="1226.36" y1="1079.00" x2="1226.36" y2="1086.00" stroke="#000" stroke-width="2.3"/>
<line x1="1266.80" y1="1079.00" x2="1266.80" y2="1086.00" stroke="#000" stroke-width="2.3"/>
<line x1="1287.33" y1="1079.00" x2="1287.33" y2="1086.00" stroke="#000" stroke-width="2.3"/>
<line x1="1301.90" y1="1079.00" x2="1301.90" y2="1086.00" stroke="#000" stroke-width="2.3"/>
<line x1="1313.20" y1="1079.00" x2="1313.20" y2="1086.00" stroke="#000" stroke-width="2.3"/>
<line x1="1322.43" y1="1079.00" x2="1322.43" y2="1086.00" stroke="#000" stroke-width="2.3"/>
<line x1="1330.24" y1="1079.00" x2="1330.24" y2="1086.00" stroke="#000" stroke-width="2.3"/>
<line x1="1337.00" y1="1079.00" x2="1337.00" y2="1086.00" stroke="#000" stroke-width="2.3"/>
<line x1="1342.96" y1="1079.00" x2="1342.96" y2="1086.00" stroke="#000" stroke-width="2.3"/>
<line x1="1383.40" y1="1079.00" x2="1383.40" y2="1086.00" stroke="#000" stroke-width="2.3"/>
<line x1="1403.93" y1="1079.00" x2="1403.93" y2="1086.00" stroke="#000" stroke-width="2.3"/>
<line x1="1418.50" y1="1079.00" x2="1418.50" y2="1086.00" stroke="#000" stroke-width="2.3"/>
<line x1="1429.80" y1="1079.00" x2="1429.80" y2="1086.00" stroke="#000" stroke-width="2.3"/>
<line x1="1439.03" y1="1079.00" x2="1439.03" y2="1086.00" stroke="#000" stroke-width="2.3"/>
<line x1="1446.84" y1="1079.00" x2="1446.84" y2="1086.00" stroke="#000" stroke-width="2.3"/>
<line x1="1453.60" y1="1079.00" x2="1453.60" y2="1086.00" stroke="#000" stroke-width="2.3"/>
<line x1="1459.56" y1="1079.00" x2="1459.56" y2="1086.00" stroke="#000" stroke-width="2.3"/>
<line x1="1500.00" y1="1079.00" x2="1500.00" y2="1086.00" stroke="#000" stroke-width="2.3"/>
<line x1="1520.53" y1="1079.00" x2="1520.53" y2="1086.00" stroke="#000" stroke-width="2.3"/>
<line x1="1535.10" y1="1079.00" x2="1535.10" y2="1086.00" stroke="#000" stroke-width="2.3"/>
<line x1="1546.40" y1="1079.00" x2="1546.40" y2="1086.00" stroke="#000" stroke-width="2.3"/>
<line x1="1555.63" y1="1079.00" x2="1555.63" y2="1086.00" stroke="#000" stroke-width="2.3"/>
<line x1="1563.44" y1="1079.00" x2="1563.44" y2="1086.00" stroke="#000" stroke-width="2.3"/>
<line x1="1570.20" y1="1079.00" x2="1570.20" y2="1086.00" stroke="#000" stroke-width="2.3"/>
<line x1="1576.16" y1="1079.00" x2="1576.16" y2="1086.00" stroke="#000" stroke-width="2.3"/>
<line x1="153.50" y1="1711.00" x2="153.50" y2="1725.00" stroke="#000" stroke-width="2.3"/>
<line x1="270.00" y1="1711.00" x2="270.00" y2="1725.00" stroke="#000" stroke-width="2.3"/>
<line x1="386.50" y1="1711.00" x2="386.50" y2="1725.00" stroke="#000" stroke-width="2.3"/>
<line x1="503.00" y1="1711.00" x2="503.00" y2="1725.00" stroke="#000" stroke-width="2.3"/>
<line x1="619.50" y1="1711.00" x2="619.50" y2="1725.00" stroke="#000" stroke-width="2.3"/>
<line x1="736.00" y1="1711.00" x2="736.00" y2="1725.00" stroke="#000" stroke-width="2.3"/>
<line x1="188.57" y1="1711.00" x2="188.57" y2="1718.00" stroke="#000" stroke-width="2.3"/>
<line x1="209.08" y1="1711.00" x2="209.08" y2="1718.00" stroke="#000" stroke-width="2.3"/>
<line x1="223.64" y1="1711.00" x2="223.64" y2="1718.00" stroke="#000" stroke-width="2.3"/>
<line x1="234.93" y1="1711.00" x2="234.93" y2="1718.00" stroke="#000" stroke-width="2.3"/>
<line x1="244.15" y1="1711.00" x2="244.15" y2="1718.00" stroke="#000" stroke-width="2.3"/>
<line x1="251.95" y1="1711.00" x2="251.95" y2="1718.00" stroke="#000" stroke-width="2.3"/>
<line x1="258.71" y1="1711.00" x2="258.71" y2="1718.00" stroke="#000" stroke-width="2.3"/>
<line x1="264.67" y1="1711.00" x2="264.67" y2="1718.00" stroke="#000" stroke-width="2.3"/>
<line x1="305.07" y1="1711.00" x2="305.07" y2="1718.00" stroke="#000" stroke-width="2.3"/>
<line x1="325.58" y1="1711.00" x2="325.58" y2="1718.00" stroke="#000" stroke-width="2.3"/>
<line x1="340.14" y1="1711.00" x2="340.14" y2="1718.00" stroke="#000" stroke-width="2.3"/>
<line x1="351.43" y1="1711.00" x2="351.43" y2="1718.00" stroke="#000" stroke-width="2.3"/>
<line x1="360.65" y1="1711.00" x2="360.65" y2="1718.00" stroke="#000" stroke-width="2.3"/>
<line x1="368.45" y1="1711.00" x2="368.45" y2="1718.00" stroke="#000" stroke-width="2.3"/>
<line x1="375.21" y1="1711.00" x2="375.21" y2="1718.00" stroke="#000" stroke-width="2.3"/>
<line x1="381.17" y1="1711.00" x2="381.17" y2="1718.00" stroke="#000" stroke-width="2.3"/>
<line x1="421.57" y1="1711.00" x2="421.57" y2="1718.00" stroke="#000" stroke-width="2.3"/>
<line x1="442.08" y1="1711.00" x2="442.08" y2="1718.00" stroke="#000" stroke-width="2.3"/>
<line x1="456.64" y1="1711.00" x2="456.64" y2="1718.00" stroke="#000" stroke-width="2.3"/>
<line x1="467.93" y1="1711.00" x2="467.93" y2="1718.00" stroke="#000" stroke-width="2.3"/>
<line x1="477.15" y1="1711.00" x2="477.15" y2="1718.00" stroke="#000" stroke-width="2.3"/>
<line x1="484.95" y1="1711.00" x2="484.95" y2="1718.00" stroke="#000" stroke-width="2.3"/>
<line x1="491.71" y1="1711.00" x2="491.71" y2="1718.00" stroke="#000" stroke-width="2.3"/>
<line x1="497.67" y1="1711.00" x2="497.67" y2="1718.00" stroke="#000" stroke-width="2.3"/>
<line x1="538.07" y1="1711.00" x2="538.07" y2="1718.00" stroke="#000" stroke-width="2.3"/>
<line x1="558.58" y1="1711.00" x2="558.58" y2="1718.00" stroke="#000" stroke-width="2.3"/>
<line x1="573.14" y1="1711.00" x2="573.14" y2="1718.00" stroke="#000" stroke-width="2.3"/>
<line x1="584.43" y1="1711.00" x2="584.43" y2="1718.00" stroke="#000" stroke-width="2.3"/>
<line x1="593.65" y1="1711.00" x2="593.65" y2="1718.00" stroke="#000" stroke-width="2.3"/>
<line x1="601.45" y1="1711.00" x2="601.45" y2="1718.00" stroke="#000" stroke-width="2.3"/>
<line x1="608.21" y1="1711.00" x2="608.21" y2="1718.00" stroke="#000" stroke-width="2.3"/>
<line x1="614.17" y1="1711.00" x2="614.17" y2="1718.00" stroke="#000" stroke-width="2.3"/>
<line x1="654.57" y1="1711.00" x2="654.57" y2="1718.00" stroke="#000" stroke-width="2.3"/>
<line x1="675.08" y1="1711.00" x2="675.08" y2="1718.00" stroke="#000" stroke-width="2.3"/>
<line x1="689.64" y1="1711.00" x2="689.64" y2="1718.00" stroke="#000" stroke-width="2.3"/>
<line x1="700.93" y1="1711.00" x2="700.93" y2="1718.00" stroke="#000" stroke-width="2.3"/>
<line x1="710.15" y1="1711.00" x2="710.15" y2="1718.00" stroke="#000" stroke-width="2.3"/>
<line x1="717.95" y1="1711.00" x2="717.95" y2="1718.00" stroke="#000" stroke-width="2.3"/>
<line x1="724.71" y1="1711.00" x2="724.71" y2="1718.00" stroke="#000" stroke-width="2.3"/>
<line x1="730.67" y1="1711.00" x2="730.67" y2="1718.00" stroke="#000" stroke-width="2.3"/>
<line x1="997.80" y1="1708.70" x2="997.80" y2="1722.70" stroke="#000" stroke-width="2.3"/>
<line x1="1081.06" y1="1708.70" x2="1081.06" y2="1722.70" stroke="#000" stroke-width="2.3"/>
<line x1="1164.31" y1="1708.70" x2="1164.31" y2="1722.70" stroke="#000" stroke-width="2.3"/>
<line x1="1247.57" y1="1708.70" x2="1247.57" y2="1722.70" stroke="#000" stroke-width="2.3"/>
<line x1="1330.83" y1="1708.70" x2="1330.83" y2="1722.70" stroke="#000" stroke-width="2.3"/>
<line x1="1414.09" y1="1708.70" x2="1414.09" y2="1722.70" stroke="#000" stroke-width="2.3"/>
<line x1="1497.34" y1="1708.70" x2="1497.34" y2="1722.70" stroke="#000" stroke-width="2.3"/>
<line x1="1580.60" y1="1708.70" x2="1580.60" y2="1722.70" stroke="#000" stroke-width="2.3"/>
<line x1="1022.86" y1="1708.70" x2="1022.86" y2="1715.70" stroke="#000" stroke-width="2.3"/>
<line x1="1037.52" y1="1708.70" x2="1037.52" y2="1715.70" stroke="#000" stroke-width="2.3"/>
<line x1="1047.93" y1="1708.70" x2="1047.93" y2="1715.70" stroke="#000" stroke-width="2.3"/>
<line x1="1055.99" y1="1708.70" x2="1055.99" y2="1715.70" stroke="#000" stroke-width="2.3"/>
<line x1="1062.59" y1="1708.70" x2="1062.59" y2="1715.70" stroke="#000" stroke-width="2.3"/>
<line x1="1068.16" y1="1708.70" x2="1068.16" y2="1715.70" stroke="#000" stroke-width="2.3"/>
<line x1="1072.99" y1="1708.70" x2="1072.99" y2="1715.70" stroke="#000" stroke-width="2.3"/>
<line x1="1077.25" y1="1708.70" x2="1077.25" y2="1715.70" stroke="#000" stroke-width="2.3"/>
<line x1="1106.12" y1="1708.70" x2="1106.12" y2="1715.70" stroke="#000" stroke-width="2.3"/>
<line x1="1120.78" y1="1708.70" x2="1120.78" y2="1715.70" stroke="#000" stroke-width="2.3"/>
<line x1="1131.18" y1="1708.70" x2="1131.18" y2="1715.70" stroke="#000" stroke-width="2.3"/>
<line x1="1139.25" y1="1708.70" x2="1139.25" y2="1715.70" stroke="#000" stroke-width="2.3"/>
<line x1="1145.84" y1="1708.70" x2="1145.84" y2="1715.70" stroke="#000" stroke-width="2.3"/>
<line x1="1151.42" y1="1708.70" x2="1151.42" y2="1715.70" stroke="#000" stroke-width="2.3"/>
<line x1="1156.25" y1="1708.70" x2="1156.25" y2="1715.70" stroke="#000" stroke-width="2.3"/>
<line x1="1160.50" y1="1708.70" x2="1160.50" y2="1715.70" stroke="#000" stroke-width="2.3"/>
<line x1="1189.38" y1="1708.70" x2="1189.38" y2="1715.70" stroke="#000" stroke-width="2.3"/>
<line x1="1204.04" y1="1708.70" x2="1204.04" y2="1715.70" stroke="#000" stroke-width="2.3"/>
<line x1="1214.44" y1="1708.70" x2="1214.44" y2="1715.70" stroke="#000" stroke-width="2.3"/>
<line x1="1222.51" y1="1708.70" x2="1222.51" y2="1715.70" stroke="#000" stroke-width="2.3"/>
<line x1="1229.10" y1="1708.70" x2="1229.10" y2="1715.70" stroke="#000" stroke-width="2.3"/>
<line x1="1234.67" y1="1708.70" x2="1234.67" y2="1715.70" stroke="#000" stroke-width="2.3"/>
<line x1="1239.50" y1="1708.70" x2="1239.50" y2="1715.70" stroke="#000" stroke-width="2.3"/>
<line x1="1243.76" y1="1708.70" x2="1243.76" y2="1715.70" stroke="#000" stroke-width="2.3"/>
<line x1="1272.63" y1="1708.70" x2="1272.63" y2="1715.70" stroke="#000" stroke-width="2.3"/>
<line x1="1287.30" y1="1708.70" x2="1287.30" y2="1715.70" stroke="#000" stroke-width="2.3"/>
<line x1="1297.70" y1="1708.70" x2="1297.70" y2="1715.70" stroke="#000" stroke-width="2.3"/>
<line x1="1305.77" y1="1708.70" x2="1305.77" y2="1715.70" stroke="#000" stroke-width="2.3"/>
<line x1="1312.36" y1="1708.70" x2="1312.36" y2="1715.70" stroke="#000" stroke-width="2.3"/>
<line x1="1317.93" y1="1708.70" x2="1317.93" y2="1715.70" stroke="#000" stroke-width="2.3"/>
<line x1="1322.76" y1="1708.70" x2="1322.76" y2="1715.70" stroke="#000" stroke-width="2.3"/>
<line x1="1327.02" y1="1708.70" x2="1327.02" y2="1715.70" stroke="#000" stroke-width="2.3"/>
<line x1="1355.89" y1="1708.70" x2="1355.89" y2="1715.70" stroke="#000" stroke-width="2.3"/>
<line x1="1370.55" y1="1708.70" x2="1370.55" y2="1715.70" stroke="#000" stroke-width="2.3"/>
<line x1="1380.95" y1="1708.70" x2="1380.95" y2="1715.70" stroke="#000" stroke-width="2.3"/>
<line x1="1389.02" y1="1708.70" x2="1389.02" y2="1715.70" stroke="#000" stroke-width="2.3"/>
<line x1="1395.62" y1="1708.70" x2="1395.62" y2="1715.70" stroke="#000" stroke-width="2.3"/>
<line x1="1401.19" y1="1708.70" x2="1401.19" y2="1715.70" stroke="#000" stroke-width="2.3"/>
<line x1="1406.02" y1="1708.70" x2="1406.02" y2="1715.70" stroke="#000" stroke-width="2.3"/>
<line x1="1410.28" y1="1708.70" x2="1410.28" y2="1715.70" stroke="#000" stroke-width="2.3"/>
<line x1="1439.15" y1="1708.70" x2="1439.15" y2="1715.70" stroke="#000" stroke-width="2.3"/>
<line x1="1453.81" y1="1708.70" x2="1453.81" y2="1715.70" stroke="#000" stroke-width="2.3"/>
<line x1="1464.21" y1="1708.70" x2="1464.21" y2="1715.70" stroke="#000" stroke-width="2.3"/>
<line x1="1472.28" y1="1708.70" x2="1472.28" y2="1715.70" stroke="#000" stroke-width="2.3"/>
<line x1="1478.87" y1="1708.70" x2="1478.87" y2="1715.70" stroke="#000" stroke-width="2.3"/>
<line x1="1484.45" y1="1708.70" x2="1484.45" y2="1715.70" stroke="#000" stroke-width="2.3"/>
<line x1="1489.27" y1="1708.70" x2="1489.27" y2="1715.70" stroke="#000" stroke-width="2.3"/>
<line x1="1493.53" y1="1708.70" x2="1493.53" y2="1715.70" stroke="#000" stroke-width="2.3"/>
<line x1="1522.41" y1="1708.70" x2="1522.41" y2="1715.70" stroke="#000" stroke-width="2.3"/>
<line x1="1537.07" y1="1708.70" x2="1537.07" y2="1715.70" stroke="#000" stroke-width="2.3"/>
<line x1="1547.47" y1="1708.70" x2="1547.47" y2="1715.70" stroke="#000" stroke-width="2.3"/>
<line x1="1555.54" y1="1708.70" x2="1555.54" y2="1715.70" stroke="#000" stroke-width="2.3"/>
<line x1="1562.13" y1="1708.70" x2="1562.13" y2="1715.70" stroke="#000" stroke-width="2.3"/>
<line x1="1567.70" y1="1708.70" x2="1567.70" y2="1715.70" stroke="#000" stroke-width="2.3"/>
<line x1="1572.53" y1="1708.70" x2="1572.53" y2="1715.70" stroke="#000" stroke-width="2.3"/>
<line x1="1576.79" y1="1708.70" x2="1576.79" y2="1715.70" stroke="#000" stroke-width="2.3"/>
<line x1="155.20" y1="2349.10" x2="155.20" y2="2363.10" stroke="#000" stroke-width="2.3"/>
<line x1="252.25" y1="2349.10" x2="252.25" y2="2363.10" stroke="#000" stroke-width="2.3"/>
<line x1="349.30" y1="2349.10" x2="349.30" y2="2363.10" stroke="#000" stroke-width="2.3"/>
<line x1="446.35" y1="2349.10" x2="446.35" y2="2363.10" stroke="#000" stroke-width="2.3"/>
<line x1="543.40" y1="2349.10" x2="543.40" y2="2363.10" stroke="#000" stroke-width="2.3"/>
<line x1="640.45" y1="2349.10" x2="640.45" y2="2363.10" stroke="#000" stroke-width="2.3"/>
<line x1="737.50" y1="2349.10" x2="737.50" y2="2363.10" stroke="#000" stroke-width="2.3"/>
<line x1="184.41" y1="2349.10" x2="184.41" y2="2356.10" stroke="#000" stroke-width="2.3"/>
<line x1="201.50" y1="2349.10" x2="201.50" y2="2356.10" stroke="#000" stroke-width="2.3"/>
<line x1="213.63" y1="2349.10" x2="213.63" y2="2356.10" stroke="#000" stroke-width="2.3"/>
<line x1="223.04" y1="2349.10" x2="223.04" y2="2356.10" stroke="#000" stroke-width="2.3"/>
<line x1="230.72" y1="2349.10" x2="230.72" y2="2356.10" stroke="#000" stroke-width="2.3"/>
<line x1="237.22" y1="2349.10" x2="237.22" y2="2356.10" stroke="#000" stroke-width="2.3"/>
<line x1="242.84" y1="2349.10" x2="242.84" y2="2356.10" stroke="#000" stroke-width="2.3"/>
<line x1="247.81" y1="2349.10" x2="247.81" y2="2356.10" stroke="#000" stroke-width="2.3"/>
<line x1="281.46" y1="2349.10" x2="281.46" y2="2356.10" stroke="#000" stroke-width="2.3"/>
<line x1="298.55" y1="2349.10" x2="298.55" y2="2356.10" stroke="#000" stroke-width="2.3"/>
<line x1="310.68" y1="2349.10" x2="310.68" y2="2356.10" stroke="#000" stroke-width="2.3"/>
<line x1="320.09" y1="2349.10" x2="320.09" y2="2356.10" stroke="#000" stroke-width="2.3"/>
<line x1="327.77" y1="2349.10" x2="327.77" y2="2356.10" stroke="#000" stroke-width="2.3"/>
<line x1="334.27" y1="2349.10" x2="334.27" y2="2356.10" stroke="#000" stroke-width="2.3"/>
<line x1="339.89" y1="2349.10" x2="339.89" y2="2356.10" stroke="#000" stroke-width="2.3"/>
<line x1="344.86" y1="2349.10" x2="344.86" y2="2356.10" stroke="#000" stroke-width="2.3"/>
<line x1="378.51" y1="2349.10" x2="378.51" y2="2356.10" stroke="#000" stroke-width="2.3"/>
<line x1="395.60" y1="2349.10" x2="395.60" y2="2356.10" stroke="#000" stroke-width="2.3"/>
<line x1="407.73" y1="2349.10" x2="407.73" y2="2356.10" stroke="#000" stroke-width="2.3"/>
<line x1="417.14" y1="2349.10" x2="417.14" y2="2356.10" stroke="#000" stroke-width="2.3"/>
<line x1="424.82" y1="2349.10" x2="424.82" y2="2356.10" stroke="#000" stroke-width="2.3"/>
<line x1="431.32" y1="2349.10" x2="431.32" y2="2356.10" stroke="#000" stroke-width="2.3"/>
<line x1="436.94" y1="2349.10" x2="436.94" y2="2356.10" stroke="#000" stroke-width="2.3"/>
<line x1="441.91" y1="2349.10" x2="441.91" y2="2356.10" stroke="#000" stroke-width="2.3"/>
<line x1="475.56" y1="2349.10" x2="475.56" y2="2356.10" stroke="#000" stroke-width="2.3"/>
<line x1="492.65" y1="2349.10" x2="492.65" y2="2356.10" stroke="#000" stroke-width="2.3"/>
<line x1="504.78" y1="2349.10" x2="504.78" y2="2356.10" stroke="#000" stroke-width="2.3"/>
<line x1="514.19" y1="2349.10" x2="514.19" y2="2356.10" stroke="#000" stroke-width="2.3"/>
<line x1="521.87" y1="2349.10" x2="521.87" y2="2356.10" stroke="#000" stroke-width="2.3"/>
<line x1="528.37" y1="2349.10" x2="528.37" y2="2356.10" stroke="#000" stroke-width="2.3"/>
<line x1="533.99" y1="2349.10" x2="533.99" y2="2356.10" stroke="#000" stroke-width="2.3"/>
<line x1="538.96" y1="2349.10" x2="538.96" y2="2356.10" stroke="#000" stroke-width="2.3"/>
<line x1="572.61" y1="2349.10" x2="572.61" y2="2356.10" stroke="#000" stroke-width="2.3"/>
<line x1="589.70" y1="2349.10" x2="589.70" y2="2356.10" stroke="#000" stroke-width="2.3"/>
<line x1="601.83" y1="2349.10" x2="601.83" y2="2356.10" stroke="#000" stroke-width="2.3"/>
<line x1="611.24" y1="2349.10" x2="611.24" y2="2356.10" stroke="#000" stroke-width="2.3"/>
<line x1="618.92" y1="2349.10" x2="618.92" y2="2356.10" stroke="#000" stroke-width="2.3"/>
<line x1="625.42" y1="2349.10" x2="625.42" y2="2356.10" stroke="#000" stroke-width="2.3"/>
<line x1="631.04" y1="2349.10" x2="631.04" y2="2356.10" stroke="#000" stroke-width="2.3"/>
<line x1="636.01" y1="2349.10" x2="636.01" y2="2356.10" stroke="#000" stroke-width="2.3"/>
<line x1="669.66" y1="2349.10" x2="669.66" y2="2356.10" stroke="#000" stroke-width="2.3"/>
<line x1="686.75" y1="2349.10" x2="686.75" y2="2356.10" stroke="#000" stroke-width="2.3"/>
<line x1="698.88" y1="2349.10" x2="698.88" y2="2356.10" stroke="#000" stroke-width="2.3"/>
<line x1="708.29" y1="2349.10" x2="708.29" y2="2356.10" stroke="#000" stroke-width="2.3"/>
<line x1="715.97" y1="2349.10" x2="715.97" y2="2356.10" stroke="#000" stroke-width="2.3"/>
<line x1="722.47" y1="2349.10" x2="722.47" y2="2356.10" stroke="#000" stroke-width="2.3"/>
<line x1="728.09" y1="2349.10" x2="728.09" y2="2356.10" stroke="#000" stroke-width="2.3"/>
<line x1="733.06" y1="2349.10" x2="733.06" y2="2356.10" stroke="#000" stroke-width="2.3"/>
<line x1="1133.80" y1="2350.80" x2="1133.80" y2="2364.80" stroke="#000" stroke-width="2.3"/>
<line x1="1327.80" y1="2350.80" x2="1327.80" y2="2364.80" stroke="#000" stroke-width="2.3"/>
<line x1="1521.80" y1="2350.80" x2="1521.80" y2="2364.80" stroke="#000" stroke-width="2.3"/>
<line x1="1032.36" y1="2350.80" x2="1032.36" y2="2357.80" stroke="#000" stroke-width="2.3"/>
<line x1="1056.60" y1="2350.80" x2="1056.60" y2="2357.80" stroke="#000" stroke-width="2.3"/>
<line x1="1075.40" y1="2350.80" x2="1075.40" y2="2357.80" stroke="#000" stroke-width="2.3"/>
<line x1="1090.76" y1="2350.80" x2="1090.76" y2="2357.80" stroke="#000" stroke-width="2.3"/>
<line x1="1103.75" y1="2350.80" x2="1103.75" y2="2357.80" stroke="#000" stroke-width="2.3"/>
<line x1="1115.00" y1="2350.80" x2="1115.00" y2="2357.80" stroke="#000" stroke-width="2.3"/>
<line x1="1124.92" y1="2350.80" x2="1124.92" y2="2357.80" stroke="#000" stroke-width="2.3"/>
<line x1="1192.20" y1="2350.80" x2="1192.20" y2="2357.80" stroke="#000" stroke-width="2.3"/>
<line x1="1226.36" y1="2350.80" x2="1226.36" y2="2357.80" stroke="#000" stroke-width="2.3"/>
<line x1="1250.60" y1="2350.80" x2="1250.60" y2="2357.80" stroke="#000" stroke-width="2.3"/>
<line x1="1269.40" y1="2350.80" x2="1269.40" y2="2357.80" stroke="#000" stroke-width="2.3"/>
<line x1="1284.76" y1="2350.80" x2="1284.76" y2="2357.80" stroke="#000" stroke-width="2.3"/>
<line x1="1297.75" y1="2350.80" x2="1297.75" y2="2357.80" stroke="#000" stroke-width="2.3"/>
<line x1="1309.00" y1="2350.80" x2="1309.00" y2="2357.80" stroke="#000" stroke-width="2.3"/>
<line x1="1318.92" y1="2350.80" x2="1318.92" y2="2357.80" stroke="#000" stroke-width="2.3"/>
<line x1="1386.20" y1="2350.80" x2="1386.20" y2="2357.80" stroke="#000" stroke-width="2.3"/>
<line x1="1420.36" y1="2350.80" x2="1420.36" y2="2357.80" stroke="#000" stroke-width="2.3"/>
<line x1="1444.60" y1="2350.80" x2="1444.60" y2="2357.80" stroke="#000" stroke-width="2.3"/>
<line x1="1463.40" y1="2350.80" x2="1463.40" y2="2357.80" stroke="#000" stroke-width="2.3"/>
<line x1="1478.76" y1="2350.80" x2="1478.76" y2="2357.80" stroke="#000" stroke-width="2.3"/>
<line x1="1491.75" y1="2350.80" x2="1491.75" y2="2357.80" stroke="#000" stroke-width="2.3"/>
<line x1="1503.00" y1="2350.80" x2="1503.00" y2="2357.80" stroke="#000" stroke-width="2.3"/>
<line x1="1512.92" y1="2350.80" x2="1512.92" y2="2357.80" stroke="#000" stroke-width="2.3"/>
<line x1="1580.20" y1="2350.80" x2="1580.20" y2="2357.80" stroke="#000" stroke-width="2.3"/>
<text x="154.25" y="496" font-size="26" text-anchor="middle" fill="#000">2.5</text>
<text x="244.00" y="496" font-size="26" text-anchor="middle" fill="#000">3</text>
<text x="333.74" y="496" font-size="26" text-anchor="middle" fill="#000">3.5</text>
<text x="423.49" y="496" font-size="26" text-anchor="middle" fill="#000">4</text>
<text x="513.23" y="496" font-size="26" text-anchor="middle" fill="#000">4.5</text>
<text x="602.98" y="496" font-size="26" text-anchor="middle" fill="#000">5</text>
<text x="692.73" y="496" font-size="26" text-anchor="middle" fill="#000">5.5</text>
<text x="994.00" y="496" font-size="26" text-anchor="middle" fill="#000">0.1</text>
<text x="1039.36" y="492" font-size="19.5" text-anchor="middle" fill="#000">0.2</text>
<text x="1096.41" y="492" font-size="19.5" text-anchor="middle" fill="#000">0.5</text>
<text x="1141.47" y="496" font-size="26" text-anchor="middle" fill="#000">1</text>
<text x="1186.54" y="492" font-size="19.5" text-anchor="middle" fill="#000">2</text>
<text x="1209.61" y="492" font-size="19.5" text-anchor="middle" fill="#000">3</text>
<text x="1243.89" y="492" font-size="19.5" text-anchor="middle" fill="#000">5</text>
<text x="1288.25" y="496" font-size="26" text-anchor="middle" fill="#000">10</text>
<text x="1332.01" y="492" font-size="19.5" text-anchor="middle" fill="#000">20</text>
<text x="1389.56" y="492" font-size="19.5" text-anchor="middle" fill="#000">50</text>
<text x="1436.12" y="496" font-size="26" text-anchor="middle" fill="#000">100</text>
<text x="1503.46" y="492" font-size="19.5" text-anchor="middle" fill="#000">300</text>
<text x="1572.00" y="496" font-size="26" text-anchor="middle" fill="#000">1000</text>
<text x="162.10" y="1116" font-size="26" text-anchor="middle" fill="#000">1e+6</text>
<text x="270.70" y="1116" font-size="26" text-anchor="middle" fill="#000">1e+7</text>
<text x="387.10" y="1116" font-size="26" text-anchor="middle" fill="#000">1e+8</text>
<text x="503.50" y="1116" font-size="26" text-anchor="middle" fill="#000">1e+9</text>
<text x="619.90" y="1116" font-size="26" text-anchor="middle" fill="#000">1e+10</text>
<text x="717.30" y="1116" font-size="26" text-anchor="middle" fill="#000">1e+11</text>
<text x="1006.30" y="1118" font-size="26" text-anchor="middle" fill="#000">1e+6</text>
<text x="1115.10" y="1118" font-size="26" text-anchor="middle" fill="#000">1e+7</text>
<text x="1231.70" y="1118" font-size="26" text-anchor="middle" fill="#000">1e+8</text>
<text x="1348.30" y="1118" font-size="26" text-anchor="middle" fill="#000">1e+9</text>
<text x="1464.90" y="1118" font-size="26" text-anchor="middle" fill="#000">1e+10</text>
<text x="1562.50" y="1118" font-size="26" text-anchor="middle" fill="#000">1e+11</text>
<text x="161.30" y="1750" font-size="26" text-anchor="middle" fill="#000">1e+7</text>
<text x="270.00" y="1750" font-size="26" text-anchor="middle" fill="#000">1e+8</text>
<text x="386.50" y="1750" font-size="26" text-anchor="middle" fill="#000">1e+9</text>
<text x="503.00" y="1750" font-size="26" text-anchor="middle" fill="#000">1e+10</text>
<text x="619.50" y="1750" font-size="26" text-anchor="middle" fill="#000">1e+11</text>
<text x="718.50" y="1750" font-size="26" text-anchor="middle" fill="#000">1e+12</text>
<text x="1005.60" y="1747" font-size="26" text-anchor="middle" fill="#000">1e+6</text>
<text x="1081.06" y="1747" font-size="26" text-anchor="middle" fill="#000">1e+7</text>
<text x="1164.31" y="1747" font-size="26" text-anchor="middle" fill="#000">1e+8</text>
<text x="1247.57" y="1747" font-size="26" text-anchor="middle" fill="#000">1e+9</text>
<text x="1330.83" y="1747" font-size="26" text-anchor="middle" fill="#000">1e+10</text>
<text x="1414.09" y="1747" font-size="26" text-anchor="middle" fill="#000">1e+11</text>
<text x="1497.34" y="1747" font-size="26" text-anchor="middle" fill="#000">1e+12</text>
<text x="163.00" y="2388" font-size="26" text-anchor="middle" fill="#000">1e+7</text>
<text x="252.25" y="2388" font-size="26" text-anchor="middle" fill="#000">1e+8</text>
<text x="349.30" y="2388" font-size="26" text-anchor="middle" fill="#000">1e+9</text>
<text x="446.35" y="2388" font-size="26" text-anchor="middle" fill="#000">1e+10</text>
<text x="543.40" y="2388" font-size="26" text-anchor="middle" fill="#000">1e+11</text>
<text x="640.45" y="2388" font-size="26" text-anchor="middle" fill="#000">1e+12</text>
<text x="1073.20" y="2386" font-size="19.5" text-anchor="middle" fill="#000">0.05</text>
<text x="1131.70" y="2390" font-size="26" text-anchor="middle" fill="#000">0.1</text>
<text x="1224.46" y="2386" font-size="19.5" text-anchor="middle" fill="#000">0.3</text>
<text x="1282.76" y="2386" font-size="19.5" text-anchor="middle" fill="#000">0.6</text>
<text x="1327.00" y="2390" font-size="26" text-anchor="middle" fill="#000">1</text>
<text x="1384.60" y="2386" font-size="19.5" text-anchor="middle" fill="#000">2</text>
<text x="1419.86" y="2386" font-size="19.5" text-anchor="middle" fill="#000">3</text>
<text x="1443.80" y="2386" font-size="19.5" text-anchor="middle" fill="#000">4</text>
<text x="1478.06" y="2386" font-size="19.5" text-anchor="middle" fill="#000">6</text>
<text x="1523.30" y="2390" font-size="26" text-anchor="middle" fill="#000">10</text>
<text x="1579.20" y="2386" font-size="19.5" text-anchor="middle" fill="#000">20</text>
<text x="3.70" y="220" font-size="64" fill="#000">f</text>
<text x="26.20" y="238" font-size="64" fill="#000">g</text>
<text x="391.60" y="567" font-size="64" fill="#000">m</text>
<text x="445.20" y="584" font-size="64" fill="#000">g</text>
<text x="859.10" y="214" font-size="64" fill="#000">f</text>
<text x="881.80" y="231" font-size="64" fill="#000">g</text>
<text x="1236.40" y="565" font-size="64" fill="#000">m</text>
<text x="1291.60" y="583" font-size="64" fill="#000">n</text>
<text x="3.70" y="840" font-size="64" fill="#000">f</text>
<text x="26.20" y="857" font-size="64" fill="#000">g</text>
<text x="395.70" y="1186" font-size="64" fill="#000">N</text>
<text x="445.20" y="1210" font-size="64" fill="#000">g</text>
<text x="859.10" y="840" font-size="64" fill="#000">f</text>
<text x="881.80" y="857" font-size="64" fill="#000">g</text>
<text x="1240.40" y="1184" font-size="64" fill="#000">N</text>
<text x="1291.50" y="1208" font-size="64" fill="#000">n</text>
<text x="3.70" y="1481" font-size="64" fill="#000">f</text>
<text x="26.20" y="1499" font-size="64" fill="#000">g</text>
<text x="289.90" y="1823" font-size="64" fill="#000">m</text>
<text x="343.90" y="1840" font-size="64" fill="#000">g</text>
<text x="395.70" y="1825" font-size="64" fill="#000">N</text>
<text x="445.60" y="1843" font-size="64" fill="#000">g</text>
<text x="859.10" y="1481" font-size="64" fill="#000">f</text>
<text x="881.80" y="1499" font-size="64" fill="#000">g</text>
<text x="1134.60" y="1822" font-size="64" fill="#000">m</text>
<text x="1189.60" y="1839" font-size="64" fill="#000">n</text>
<text x="1240.40" y="1824" font-size="64" fill="#000">N</text>
<text x="1291.70" y="1841" font-size="64" fill="#000">n</text>
<text x="3.70" y="2119" font-size="64" fill="#000">f</text>
<text x="26.20" y="2137" font-size="64" fill="#000">g</text>
<text x="398.00" y="2460" font-size="64" fill="#000">M</text>
<text x="859.10" y="2119" font-size="64" fill="#000">f</text>
<text x="881.80" y="2137" font-size="64" fill="#000">g</text>
<text x="1178.60" y="2458" font-size="64" fill="#000">N</text>
<text x="1228.80" y="2483" font-size="64" fill="#000">g</text>
<text x="1276.50" y="2458" font-size="64" fill="#000">/</text>
<text x="1315.40" y="2458" font-size="64" fill="#000">N</text>
<text x="1365.40" y="2483" font-size="64" fill="#000">n</text>
<text x="722.30" y="68" font-size="30" text-anchor="end" fill="#E8650C" textLength="205.0">eulipotyphlans</text>
<text x="722.30" y="107" font-size="30" text-anchor="end" fill="#3A3B3F" textLength="155.0">scandentia</text>
<text x="722.30" y="145" font-size="30" text-anchor="end" fill="#E60A1A" textLength="123.5">primates</text>
<text x="722.30" y="182" font-size="30" text-anchor="end" fill="#1C6C12" textLength="75.5">glires</text>
<text x="1569.30" y="63" font-size="30" text-anchor="end" fill="#E8650C" textLength="205.0">eulipotyphlans</text>
<text x="1569.30" y="102" font-size="30" text-anchor="end" fill="#3A3B3F" textLength="155.0">scandentia</text>
<text x="1569.30" y="140" font-size="30" text-anchor="end" fill="#E60A1A" textLength="123.5">primates</text>
<text x="1569.30" y="177" font-size="30" text-anchor="end" fill="#1C6C12" textLength="75.5">glires</text>
</svg>
</body></html>
